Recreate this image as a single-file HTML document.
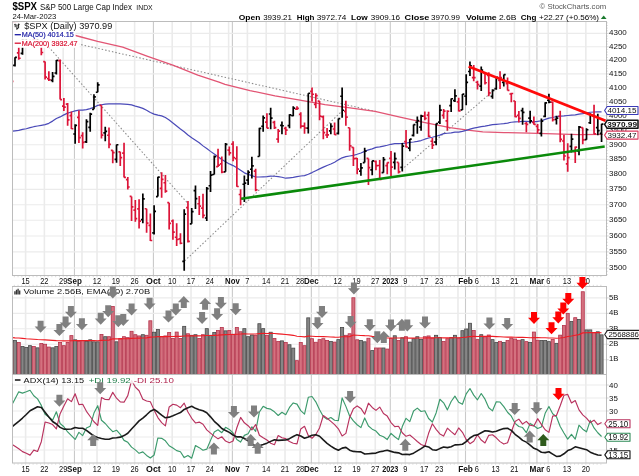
<!DOCTYPE html><html><head><meta charset="utf-8"><title>$SPX</title>
<style>html,body{margin:0;padding:0;background:#fff;}svg{display:block;will-change:transform;opacity:0.999;font-family:"Liberation Sans",sans-serif;}</style></head><body>
<svg width="639" height="476" viewBox="0 0 639 476">
<rect width="639" height="476" fill="#fff"/>
<g id="main">
<path d="M25.58,21.5V275.5M44.38,21.5V275.5M63.18,21.5V275.5M81.98,21.5V275.5M97.02,21.5V275.5M115.82,21.5V275.5M134.62,21.5V275.5M172.22,21.5V275.5M191.02,21.5V275.5M209.82,21.5V275.5M228.62,21.5V275.5M247.42,21.5V275.5M266.22,21.5V275.5M285.02,21.5V275.5M300.06,21.5V275.5M318.86,21.5V275.5M337.66,21.5V275.5M356.46,21.5V275.5M375.26,21.5V275.5M405.34,21.5V275.5M424.14,21.5V275.5M439.18,21.5V275.5M457.98,21.5V275.5M476.78,21.5V275.5M495.58,21.5V275.5M514.38,21.5V275.5M529.42,21.5V275.5M548.22,21.5V275.5M567.02,21.5V275.5M585.82,21.5V275.5" stroke="#ebebeb" stroke-width="1.6" fill="none"/>
<path d="M74.46,21.5V275.5M153.42,21.5V275.5M232.38,21.5V275.5M311.34,21.5V275.5M390.3,21.5V275.5M465.5,21.5V275.5M536.94,21.5V275.5" stroke="#cacaca" stroke-width="1.1" fill="none"/>
<line x1="12.5" y1="268.07" x2="606.5" y2="268.07" stroke="#ebebeb" stroke-width="1.1"/>
<line x1="12.5" y1="251.9" x2="606.5" y2="251.9" stroke="#ebebeb" stroke-width="1.1"/>
<line x1="12.5" y1="235.96" x2="606.5" y2="235.96" stroke="#ebebeb" stroke-width="1.1"/>
<line x1="12.5" y1="220.23" x2="606.5" y2="220.23" stroke="#ebebeb" stroke-width="1.1"/>
<line x1="12.5" y1="204.72" x2="606.5" y2="204.72" stroke="#ebebeb" stroke-width="1.1"/>
<line x1="12.5" y1="189.42" x2="606.5" y2="189.42" stroke="#ebebeb" stroke-width="1.1"/>
<line x1="12.5" y1="174.32" x2="606.5" y2="174.32" stroke="#ebebeb" stroke-width="1.1"/>
<line x1="12.5" y1="159.42" x2="606.5" y2="159.42" stroke="#ebebeb" stroke-width="1.1"/>
<line x1="12.5" y1="144.71" x2="606.5" y2="144.71" stroke="#ebebeb" stroke-width="1.1"/>
<line x1="12.5" y1="130.19" x2="606.5" y2="130.19" stroke="#ebebeb" stroke-width="1.1"/>
<line x1="12.5" y1="115.85" x2="606.5" y2="115.85" stroke="#ebebeb" stroke-width="1.1"/>
<line x1="12.5" y1="101.68" x2="606.5" y2="101.68" stroke="#ebebeb" stroke-width="1.1"/>
<line x1="12.5" y1="87.7" x2="606.5" y2="87.7" stroke="#ebebeb" stroke-width="1.1"/>
<line x1="12.5" y1="73.88" x2="606.5" y2="73.88" stroke="#ebebeb" stroke-width="1.1"/>
<line x1="12.5" y1="60.22" x2="606.5" y2="60.22" stroke="#ebebeb" stroke-width="1.1"/>
<line x1="12.5" y1="46.73" x2="606.5" y2="46.73" stroke="#ebebeb" stroke-width="1.1"/>
<line x1="12.5" y1="33.4" x2="606.5" y2="33.4" stroke="#ebebeb" stroke-width="1.1"/>
<line x1="30" y1="33" x2="378" y2="112" stroke="#8a8a8a" stroke-width="1.05" stroke-dasharray="1.5 2" fill="none"/>
<line x1="30" y1="26" x2="187.5" y2="203" stroke="#8a8a8a" stroke-width="1.05" stroke-dasharray="1.5 2" fill="none"/>
<line x1="184.7" y1="260.9" x2="341.6" y2="111.5" stroke="#8a8a8a" stroke-width="1.05" stroke-dasharray="1.5 2" fill="none"/>
<line x1="399" y1="172" x2="494.5" y2="89.8" stroke="#8a8a8a" stroke-width="1.05" stroke-dasharray="1.5 2" fill="none"/>
<polyline fill="none" stroke="#e25574" stroke-width="1.3" stroke-linejoin="round" points="12,22.5 30,25.5 50,29.5 75.5,35.5 97.6,41.3 122.7,47.1 147.7,56.3 172.8,65.1 197.8,75.1 219,82.1 225,84.3 250,90.6 275,95.8 300,100.1 325,104.6 350,107.8 375,111.3 400,117.1 425,122.6 450,127.6 467.8,130.1 482.8,131.8 504,132.6 529,133.1 554,133.8 579,134.6 602.7,134.4"/>
<polyline fill="none" stroke="#4a4ab8" stroke-width="1.2" stroke-linejoin="round" points="12.6,131.16 15,130.88 18.76,130.45 22.52,129.41 26.28,128.72 30.04,127.59 33.8,126.71 37.56,126 41.32,125.35 45.08,124.66 48.84,123.35 52.6,121.11 56.36,118.46 60.12,116.93 63.88,114.86 67.64,113.09 71.4,112.01 75.16,110.83 78.92,110.1 82.68,110.12 86.44,109.67 90.2,108.62 93.96,107.22 97.72,105.38 101.48,104.77 105.24,104.13 109,103.81 112.76,103.97 116.52,103.97 120.28,103.96 124.04,104.13 127.8,104.37 131.56,104.92 135.32,106.1 139.08,107.13 142.84,108.37 146.6,110.18 150.36,112.52 154.12,114.13 157.88,115.14 161.64,115.92 165.4,117.51 169.16,119.99 172.92,122.95 176.68,125.99 180.44,128.96 184.2,131.76 187.96,135.05 191.72,137.76 195.48,140.21 199.24,142.7 203,145.88 206.76,148.54 210.52,151.38 214.28,153.96 218.04,156.76 221.8,159.52 225.56,161.79 229.32,163.9 233.08,165.58 236.84,167.78 240.6,170.29 244.36,172.86 248.12,174.36 251.88,175.58 255.64,177.01 259.4,177 263.16,176.84 266.92,176.64 270.68,176.14 274.44,176.27 278.2,176.63 281.96,177.24 285.72,178.21 289.48,177.78 293.24,177.29 297,176.54 300.76,176 304.52,175.65 308.28,174.3 312.04,172.58 315.8,170.71 319.56,168.88 323.32,167.17 327.08,165.46 330.84,164.01 334.6,162.26 338.36,159.86 342.12,157.84 345.88,156.63 349.64,155.97 353.4,155.33 357.16,154.28 360.92,153.05 364.68,151.35 368.44,149.9 372.2,148.88 375.96,147.43 379.72,146.82 383.48,146.06 387.24,145.22 391,144.29 394.76,143.7 398.52,143.64 402.28,143.43 406.04,143.07 409.8,142.42 413.56,142.02 417.32,141.37 421.08,140.54 424.84,139.19 428.6,137.98 432.36,137.23 436.12,136.27 439.88,135.16 443.64,133.6 447.4,133.25 451.16,132.86 454.92,132.21 458.68,132.06 462.44,131.38 466.2,130.38 469.96,129.14 473.72,128.07 477.48,127.45 481.24,126.66 485,126.13 488.76,125.46 492.52,124.69 496.28,124.37 500.04,124.02 503.8,123.59 507.56,123.06 511.32,122.27 515.08,121.91 518.84,121.75 522.6,121.3 526.36,121.42 530.12,121.64 533.88,121.78 537.64,121.46 541.4,120.72 545.16,119.42 548.92,118.12 552.68,117.51 556.44,116.54 560.2,116.12 563.96,115.94 567.72,115.52 571.48,115.12 575.24,114.82 579,114.05 582.76,113.69 586.52,112.87 590.28,112.26 594.04,112 597.8,111.84 601.56,111.83"/>
<path d="M15,57.23V66.41M13.1,65.39H15M15,57.45H16.9M22.52,38.59V54.87M20.62,53.45H22.52M22.52,38.67H24.42M26.28,32.93V44.88M24.38,41.55H26.28M26.28,34.16H28.18M30.04,26.72V39.31M28.14,35.93H30.04M30.04,32.02H31.94M37.56,35.38V43.52M35.66,40.55H37.56M37.56,37.72H39.46M52.6,72.08V82.16M50.7,80.34H52.6M52.6,76.42H54.5M56.36,60.08V74.54M54.46,72.98H56.36M56.36,60.46H58.26M75.16,124.36V143.64M73.26,134.02H75.16M75.16,125.33H77.06M86.44,119.3V142.95M84.54,141.95H86.44M86.44,121.6H88.34M90.2,112.86V131.68M88.3,127.32H90.2M90.2,114.09H92.1M93.96,94.16V109.33M92.06,109.33H93.96M93.96,96.81H95.86M97.72,82.35V92.25M95.82,92.25H97.72M97.72,84.81H99.62M105.24,126.74V141.15M103.34,132.86H105.24M105.24,131.34H107.14M116.52,144.58V162.83M114.62,159.44H116.52M116.52,144.74H118.42M142.84,193.46V223.17M140.94,219.63H142.84M142.84,198.87H144.74M154.12,205.23V234.4M152.22,232.86H154.12M154.12,211.39H156.02M157.88,176.75V196.6M155.98,196.6H157.88M157.88,177.04H159.78M184.2,209.23V270.82M182.3,261.46H184.2M184.2,214.03H186.1M191.72,207.89V223.78M189.82,223.78H191.72M191.72,211.54H193.62M195.48,185.54V208.88M193.58,190.56H195.48M195.48,198.58H197.38M206.76,187.02V221.04M204.86,218.02H206.76M206.76,188.58H208.66M210.52,171.1V191.96M208.62,185.77H210.52M210.52,175.12H212.42M214.28,155.62V174.49M212.38,174.49H214.28M214.28,156.72H216.18M225.56,143.12V171.84M223.66,171.84H225.56M225.56,144.4H227.46M244.36,175.42V202M242.46,184.27H244.36M244.36,183.19H246.26M248.12,170.14V184.96M246.22,180.12H248.12M248.12,172.28H250.02M251.88,156.64V178.44M249.98,169.23H251.88M251.88,165.92H253.78M259.4,127.78V156.49M257.5,156.49H259.4M259.4,128.35H261.3M263.16,115.42V131.68M261.26,126.23H263.16M263.16,117.86H265.06M270.68,107.66V129.27M268.78,114.02H270.68M270.68,118.2H272.58M281.96,121.59V134.24M280.06,125.46H281.96M281.96,125.77H283.86M289.48,114.17V128.2M287.58,125.72H289.48M289.48,114.83H291.38M293.24,106.26V116.23M291.34,115.76H293.24M293.24,108.1H295.14M308.28,93.24V133.49M306.38,128.12H308.28M308.28,93.24H310.18M330.84,123.23V134.28M328.94,130.82H330.84M330.84,126.29H332.74M338.36,118.5V134.44M336.46,133.28H338.36M338.36,118.54H340.26M342.12,87.43V117.83M340.22,96.24H342.12M342.12,110.26H344.02M360.92,162.91V175.63M359.02,171.18H360.92M360.92,167.85H362.82M364.68,147.69V162.53M362.78,162.53H364.68M364.68,151.03H366.58M372.2,160.66V175.22M370.3,169.8H372.2M372.2,160.95H374.1M383.48,157V172.69M381.58,172.69H383.48M383.48,159.63H385.38M394.76,152.58V169.6M392.86,162.28H394.76M394.76,158.54H396.66M402.28,142.9V171.46M400.38,167.33H402.28M402.28,146.15H404.18M409.8,138.93V151.37M407.9,148.05H409.8M409.8,139.09H411.7M413.56,124.41V136.4M411.66,135.29H413.56M413.56,124.54H415.46M417.32,116.48V133.78M415.42,122.26H417.32M417.32,120.65H419.22M421.08,114.72V130.86M419.18,127.13H421.08M421.08,116.1H422.98M436.12,123.58V145.33M434.22,142.07H436.12M436.12,123.68H438.02M439.88,104.7V123.96M437.98,122.09H439.88M439.88,110.21H441.78M451.16,98.43V112.06M449.26,105.61H451.16M451.16,98.75H453.06M454.92,89.31V102.05M453.02,100.64H454.92M454.92,95.91H456.82M462.44,94.06V110.03M460.54,109.92H462.44M462.44,94.22H464.34M466.2,74.17V105.29M464.3,96.05H466.2M466.2,82.37H468.1M469.96,61.46V76.11M468.06,71.5H469.96M469.96,65.73H471.86M481.24,66.61V90.93M479.34,86.21H481.24M481.24,70.04H483.14M492.52,89.27V98.65M490.62,96.37H492.52M492.52,90.35H494.42M496.28,76.93V89.74M494.38,88.64H496.28M496.28,77.37H498.18M503.8,74.4V86.59M501.9,82.29H503.8M503.8,74.54H505.7M522.6,107.81V124.66M520.7,110.56H522.6M522.6,112.34H524.5M530.12,110.71V123.41M528.22,118.03H530.12M530.12,120.92H532.02M541.4,118.46V136.51M539.5,133.46H541.4M541.4,121.17H543.3M545.16,102.17V117.22M543.26,116.41H545.16M545.16,102.91H547.06M548.92,93.69V103.2M547.02,100.24H548.92M548.92,102.13H550.82M556.44,115.73V124.5M554.54,119.4H556.44M556.44,118.12H558.34M571.48,133.86V152.44M569.58,146.46H571.48M571.48,139.08H573.38M579,126.02V155.25M577.1,150.88H579M579,127.22H580.9M586.52,128.28V139.78M584.62,139.61H586.52M586.52,129.73H588.42M590.28,113.26V124.09M588.38,122.74H590.28M590.28,115.03H592.18M597.8,113.66V135.29M595.9,127.53H597.8M597.8,130.55H599.7M601.56,123.64V142.03M599.66,133.3H601.56M601.56,124.14H603.46" stroke="#000" stroke-width="1.7" fill="none"/>
<path d="M18.76,44.61V59.84M16.86,52.81H18.76M18.76,58.25H20.66M33.8,32.82V45.91M31.9,38.61H33.8M33.8,40.3H35.7M41.32,42.37V55.16M39.42,42.37H41.32M41.32,52.52H43.22M45.08,61.56V79.42M43.18,61.56H45.08M45.08,77.18H46.98M48.84,71.2V81.03M46.94,78.53H48.84M48.84,79.74H50.74M60.12,59.4V99.53M58.22,60.57H60.12M60.12,99.53H62.02M63.88,98.03V110.89M61.98,106.03H63.88M63.88,107.15H65.78M67.64,103.1V125.8M65.74,104.15H67.64M67.64,119.8H69.54M71.4,111.47V128.88M69.5,115.65H71.4M71.4,128.74H73.3M78.92,110.61V142.89M77.02,117.37H78.92M78.92,137.64H80.82M82.68,132.34V148.59M80.78,135.71H82.68M82.68,142.32H84.58M101.48,105.32V138.5M99.58,105.32H101.48M101.48,135.19H103.38M109,127.55V148.14M107.1,135.27H109M109,144.31H110.9M112.76,150.29V163.25M110.86,150.29H112.76M112.76,152.53H114.66M120.28,151.74V166.09M118.38,151.97H120.28M120.28,157.66H122.18M124.04,142.64V177.48M122.14,153.1H124.04M124.04,177.34H125.94M127.8,177.05V189.59M125.9,179.62H127.8M127.8,186.99H129.7M131.56,196.39V221.02M129.66,196.39H131.56M131.56,206.81H133.46M135.32,199.9V221.87M133.42,210.06H135.32M135.32,218.66H137.22M139.08,199.33V228.61M137.18,208.91H139.08M139.08,221.08H140.98M146.6,208.73V232.67M144.7,208.73H146.6M146.6,223.21H148.5M150.36,213.56V240.99M148.46,225.4H150.36M150.36,240.52H152.26M161.64,172.25V197.76M159.74,188.43H161.64M161.64,179.35H163.54M165.4,174.94V192.7M163.5,182.76H165.4M165.4,191.09H167.3M169.16,202.65V229.41M167.26,202.65H169.16M169.16,223.47H171.06M172.92,219.55V239.73M171.02,221.01H172.92M172.92,232.04H174.82M176.68,223.15V245.99M174.78,237.27H176.68M176.68,239.5H178.58M180.44,233.32V244.26M178.54,238.86H180.44M180.44,243.25H182.34M187.96,201.03V242.41M186.06,207.68H187.96M187.96,241.33H189.86M199.24,195.95V215.09M197.34,203.76H199.24M199.24,206.21H201.14M203,193.68V218.22M201.1,208.1H203M203,215.31H204.9M218.04,148.76V167.12M216.14,166.56H218.04M218.04,165.18H219.94M221.8,156.48V173.18M219.9,163.96H221.8M221.8,172.13H223.7M229.32,146.54V155.52M227.42,150.03H229.32M229.32,152.93H231.22M233.08,141.27V161.26M231.18,144.18H233.08M233.08,157.61H234.98M236.84,146.33V186.78M234.94,158.56H236.84M236.84,186.48H238.74M240.6,189.24V205.29M238.7,194.52H240.6M240.6,198.61H242.5M255.64,168.87V191.18M253.74,171.04H255.64M255.64,189.85H257.54M266.92,113.29V128.34M265.02,122.14H266.92M266.92,128.09H268.82M274.44,120.68V128.93M272.54,122.47H274.44M274.44,127.65H276.34M278.2,128.94V142.8M276.3,139.09H278.2M278.2,131.18H280.1M285.72,126.73V135M283.82,128.39H285.72M285.72,130.2H287.62M297,106.19V109.94M295.1,109.21H297M297,108.43H298.9M300.76,112.35V128.52M298.86,114.32H300.76M300.76,126.17H302.66M304.52,122.49V133.76M302.62,126.1H304.52M304.52,127.99H306.42M312.04,87.55V101.44M310.14,91.28H312.04M312.04,94.23H313.94M315.8,93.14V108.28M313.9,104.45H315.8M315.8,95.59H317.7M319.56,100.99V120.27M317.66,101.12H319.56M319.56,116.18H321.46M323.32,115.42V139.34M321.42,116.81H323.32M323.32,132.71H325.22M327.08,128V138.1M325.18,135.02H327.08M327.08,134.84H328.98M334.6,122.41V135.09M332.7,128.98H334.6M334.6,134.7H336.5M345.88,100.63V125.68M343.98,111.43H345.88M345.88,117.18H347.78M349.64,127.77V150.73M347.74,127.77H349.64M349.64,145.95H351.54M353.4,147.37V165.98M351.5,147.37H353.4M353.4,158.72H355.3M357.16,157.98V174.31M355.26,158.3H357.16M357.16,169.03H359.06M368.44,158.45V185.02M366.54,158.45H368.44M368.44,167.62H370.34M375.96,160.41V170.36M374.06,161.39H375.96M375.96,165.58H377.86M379.72,159.92V180.1M377.82,165.49H379.72M379.72,179.37H381.62M387.24,162.43V174.22M385.34,165.64H387.24M387.24,162.53H389.14M391,151.02V176.02M389.1,158.44H391M391,167.1H392.9M398.52,162.46V173.59M396.62,162.46H398.52M398.52,171.89H400.42M406.04,130.02V147.51M404.14,141.55H406.04M406.04,147.02H407.94M424.84,111.47V120.25M422.94,116.05H424.84M424.84,118.42H426.74M428.6,111.82V136.96M426.7,115.2H428.6M428.6,136.3H430.5M432.36,138.02V148.94M430.46,141.25H432.36M432.36,145.04H434.26M443.64,109.05V118.76M441.74,115.35H443.64M443.64,111.03H445.54M447.4,110.29V130.46M445.5,120.78H447.4M447.4,111.23H449.3M458.68,97.79V111.42M456.78,101.89H458.68M458.68,110.79H460.58M473.72,65.02V81.22M471.82,77.54H473.72M473.72,77.6H475.62M477.48,80.87V89.54M475.58,82.27H477.48M477.48,84.62H479.38M485,72V84.46M483.1,72.92H485M485,82.74H486.9M488.76,72.17V96.16M486.86,75.46H488.76M488.76,92.85H490.66M500.04,71.2V89.08M498.14,80.3H500.04M500.04,77.69H501.94M507.56,77.58V90.62M505.66,83.6H507.56M507.56,90.37H509.46M511.32,92.85V102.26M509.42,94H511.32M511.32,93.52H513.22M515.08,101.02V117.22M513.18,101.02H515.08M515.08,116.6H516.98M518.84,110.91V122.45M516.94,115.32H518.84M518.84,118.4H520.74M526.36,122.06V132.18M524.46,123.5H526.36M526.36,124.42H528.26M533.88,116.56V124.72M531.98,122.37H533.88M533.88,124.38H535.78M537.64,123.93V133.35M535.74,126.34H537.64M537.64,129.78H539.54M552.68,101.68V121.47M550.78,102.17H552.68M552.68,119.74H554.58M560.2,110.78V142.17M558.3,116.23H560.2M560.2,139.37H562.1M563.96,134.8V160.51M562.06,140.98H563.96M563.96,155.99H565.86M567.72,143.23V171.67M565.82,163.83H567.72M567.72,157.71H569.62M575.24,146.39V162.91M573.34,151.53H575.24M575.24,147.07H577.14M582.76,127.62V144.34M580.86,127.68H582.76M582.76,139.85H584.66M594.04,104.65V134.18M592.14,115.26H594.04M594.04,133.95H595.94" stroke="#dc1438" stroke-width="1.7" fill="none"/>
<path d="M12.6,81.47H13.4" stroke="#dc1438" stroke-width="1.7" fill="none"/>
<line x1="241.3" y1="198.7" x2="604.7" y2="146.6" stroke="#0a8a0a" stroke-width="2.5"/>
<line x1="468.6" y1="66.4" x2="605.6" y2="120.8" stroke="#ff0a0a" stroke-width="2.7"/>
<rect x="12.6" y="22.2" width="102" height="9" fill="#fff"/>
<rect x="12.6" y="31" width="63" height="8.6" fill="#fff"/>
<rect x="12.6" y="39.4" width="67" height="8.4" fill="#fff"/>
</g>
<rect x="12.5" y="21.5" width="594.0" height="254.0" fill="none" stroke="#bcbcbc" stroke-width="1"/>
<path d="M15.2,23.8V27.2M14.3,24.6H15.2M16.9,24.4V29.8M16.9,28.4H18M18.6,23.6V28.4M17.8,25.4H18.6M18.6,24.4H19.6" stroke="#111" stroke-width="0.95" fill="none"/>
<text x="24.2" y="29.4" font-size="8.3" fill="#111" textLength="88.1" lengthAdjust="spacingAndGlyphs">$SPX (Daily) 3970.99</text>
<line x1="14.7" y1="34.7" x2="20.9" y2="34.7" stroke="#1a1aa4" stroke-width="1.3"/>
<text x="21.8" y="37.4" font-size="7.9" fill="#1a1aa4" stroke="#1a1aa4" stroke-width="0.2" textLength="52" lengthAdjust="spacingAndGlyphs">MA(50) 4014.15</text>
<line x1="14.7" y1="43.2" x2="20.9" y2="43.2" stroke="#d81030" stroke-width="1.3"/>
<text x="21.8" y="45.8" font-size="7.9" fill="#d81030" stroke="#d81030" stroke-width="0.2" textLength="55.8" lengthAdjust="spacingAndGlyphs">MA(200) 3932.47</text>
<text x="609" y="270.02" font-size="8.1" fill="#111" textLength="17.8" lengthAdjust="spacingAndGlyphs">3500</text>
<text x="609" y="253.85" font-size="8.1" fill="#111" textLength="17.8" lengthAdjust="spacingAndGlyphs">3550</text>
<text x="609" y="237.91" font-size="8.1" fill="#111" textLength="17.8" lengthAdjust="spacingAndGlyphs">3600</text>
<text x="609" y="222.18" font-size="8.1" fill="#111" textLength="17.8" lengthAdjust="spacingAndGlyphs">3650</text>
<text x="609" y="206.67" font-size="8.1" fill="#111" textLength="17.8" lengthAdjust="spacingAndGlyphs">3700</text>
<text x="609" y="191.37" font-size="8.1" fill="#111" textLength="17.8" lengthAdjust="spacingAndGlyphs">3750</text>
<text x="609" y="176.27" font-size="8.1" fill="#111" textLength="17.8" lengthAdjust="spacingAndGlyphs">3800</text>
<text x="609" y="161.37" font-size="8.1" fill="#111" textLength="17.8" lengthAdjust="spacingAndGlyphs">3850</text>
<text x="609" y="146.66" font-size="8.1" fill="#111" textLength="17.8" lengthAdjust="spacingAndGlyphs">3900</text>
<text x="609" y="132.14" font-size="8.1" fill="#111" textLength="17.8" lengthAdjust="spacingAndGlyphs">3950</text>
<text x="609" y="117.8" font-size="8.1" fill="#111" textLength="17.8" lengthAdjust="spacingAndGlyphs">4000</text>
<text x="609" y="103.63" font-size="8.1" fill="#111" textLength="17.8" lengthAdjust="spacingAndGlyphs">4050</text>
<text x="609" y="89.65" font-size="8.1" fill="#111" textLength="17.8" lengthAdjust="spacingAndGlyphs">4100</text>
<text x="609" y="75.83" font-size="8.1" fill="#111" textLength="17.8" lengthAdjust="spacingAndGlyphs">4150</text>
<text x="609" y="62.17" font-size="8.1" fill="#111" textLength="17.8" lengthAdjust="spacingAndGlyphs">4200</text>
<text x="609" y="48.68" font-size="8.1" fill="#111" textLength="17.8" lengthAdjust="spacingAndGlyphs">4250</text>
<text x="609" y="35.35" font-size="8.1" fill="#111" textLength="17.8" lengthAdjust="spacingAndGlyphs">4300</text>
<line x1="606.5" y1="274.6" x2="607.7" y2="274.6" stroke="#aaa" stroke-width="0.5"/>
<line x1="606.5" y1="271.33" x2="607.7" y2="271.33" stroke="#aaa" stroke-width="0.5"/>
<line x1="606.5" y1="268.07" x2="608.7" y2="268.07" stroke="#aaa" stroke-width="0.5"/>
<line x1="606.5" y1="264.82" x2="607.7" y2="264.82" stroke="#aaa" stroke-width="0.5"/>
<line x1="606.5" y1="261.58" x2="607.7" y2="261.58" stroke="#aaa" stroke-width="0.5"/>
<line x1="606.5" y1="258.34" x2="607.7" y2="258.34" stroke="#aaa" stroke-width="0.5"/>
<line x1="606.5" y1="255.12" x2="607.7" y2="255.12" stroke="#aaa" stroke-width="0.5"/>
<line x1="606.5" y1="251.9" x2="608.7" y2="251.9" stroke="#aaa" stroke-width="0.5"/>
<line x1="606.5" y1="248.69" x2="607.7" y2="248.69" stroke="#aaa" stroke-width="0.5"/>
<line x1="606.5" y1="245.5" x2="607.7" y2="245.5" stroke="#aaa" stroke-width="0.5"/>
<line x1="606.5" y1="242.31" x2="607.7" y2="242.31" stroke="#aaa" stroke-width="0.5"/>
<line x1="606.5" y1="239.13" x2="607.7" y2="239.13" stroke="#aaa" stroke-width="0.5"/>
<line x1="606.5" y1="235.96" x2="608.7" y2="235.96" stroke="#aaa" stroke-width="0.5"/>
<line x1="606.5" y1="232.79" x2="607.7" y2="232.79" stroke="#aaa" stroke-width="0.5"/>
<line x1="606.5" y1="229.64" x2="607.7" y2="229.64" stroke="#aaa" stroke-width="0.5"/>
<line x1="606.5" y1="226.5" x2="607.7" y2="226.5" stroke="#aaa" stroke-width="0.5"/>
<line x1="606.5" y1="223.36" x2="607.7" y2="223.36" stroke="#aaa" stroke-width="0.5"/>
<line x1="606.5" y1="220.23" x2="608.7" y2="220.23" stroke="#aaa" stroke-width="0.5"/>
<line x1="606.5" y1="217.11" x2="607.7" y2="217.11" stroke="#aaa" stroke-width="0.5"/>
<line x1="606.5" y1="214" x2="607.7" y2="214" stroke="#aaa" stroke-width="0.5"/>
<line x1="606.5" y1="210.9" x2="607.7" y2="210.9" stroke="#aaa" stroke-width="0.5"/>
<line x1="606.5" y1="207.81" x2="607.7" y2="207.81" stroke="#aaa" stroke-width="0.5"/>
<line x1="606.5" y1="204.72" x2="608.7" y2="204.72" stroke="#aaa" stroke-width="0.5"/>
<line x1="606.5" y1="201.64" x2="607.7" y2="201.64" stroke="#aaa" stroke-width="0.5"/>
<line x1="606.5" y1="198.58" x2="607.7" y2="198.58" stroke="#aaa" stroke-width="0.5"/>
<line x1="606.5" y1="195.52" x2="607.7" y2="195.52" stroke="#aaa" stroke-width="0.5"/>
<line x1="606.5" y1="192.46" x2="607.7" y2="192.46" stroke="#aaa" stroke-width="0.5"/>
<line x1="606.5" y1="189.42" x2="608.7" y2="189.42" stroke="#aaa" stroke-width="0.5"/>
<line x1="606.5" y1="186.38" x2="607.7" y2="186.38" stroke="#aaa" stroke-width="0.5"/>
<line x1="606.5" y1="183.36" x2="607.7" y2="183.36" stroke="#aaa" stroke-width="0.5"/>
<line x1="606.5" y1="180.34" x2="607.7" y2="180.34" stroke="#aaa" stroke-width="0.5"/>
<line x1="606.5" y1="177.32" x2="607.7" y2="177.32" stroke="#aaa" stroke-width="0.5"/>
<line x1="606.5" y1="174.32" x2="608.7" y2="174.32" stroke="#aaa" stroke-width="0.5"/>
<line x1="606.5" y1="171.32" x2="607.7" y2="171.32" stroke="#aaa" stroke-width="0.5"/>
<line x1="606.5" y1="168.34" x2="607.7" y2="168.34" stroke="#aaa" stroke-width="0.5"/>
<line x1="606.5" y1="165.36" x2="607.7" y2="165.36" stroke="#aaa" stroke-width="0.5"/>
<line x1="606.5" y1="162.38" x2="607.7" y2="162.38" stroke="#aaa" stroke-width="0.5"/>
<line x1="606.5" y1="159.42" x2="608.7" y2="159.42" stroke="#aaa" stroke-width="0.5"/>
<line x1="606.5" y1="156.46" x2="607.7" y2="156.46" stroke="#aaa" stroke-width="0.5"/>
<line x1="606.5" y1="153.51" x2="607.7" y2="153.51" stroke="#aaa" stroke-width="0.5"/>
<line x1="606.5" y1="150.57" x2="607.7" y2="150.57" stroke="#aaa" stroke-width="0.5"/>
<line x1="606.5" y1="147.63" x2="607.7" y2="147.63" stroke="#aaa" stroke-width="0.5"/>
<line x1="606.5" y1="144.71" x2="608.7" y2="144.71" stroke="#aaa" stroke-width="0.5"/>
<line x1="606.5" y1="141.79" x2="607.7" y2="141.79" stroke="#aaa" stroke-width="0.5"/>
<line x1="606.5" y1="138.88" x2="607.7" y2="138.88" stroke="#aaa" stroke-width="0.5"/>
<line x1="606.5" y1="135.97" x2="607.7" y2="135.97" stroke="#aaa" stroke-width="0.5"/>
<line x1="606.5" y1="133.08" x2="607.7" y2="133.08" stroke="#aaa" stroke-width="0.5"/>
<line x1="606.5" y1="130.19" x2="608.7" y2="130.19" stroke="#aaa" stroke-width="0.5"/>
<line x1="606.5" y1="127.3" x2="607.7" y2="127.3" stroke="#aaa" stroke-width="0.5"/>
<line x1="606.5" y1="124.43" x2="607.7" y2="124.43" stroke="#aaa" stroke-width="0.5"/>
<line x1="606.5" y1="121.56" x2="607.7" y2="121.56" stroke="#aaa" stroke-width="0.5"/>
<line x1="606.5" y1="118.7" x2="607.7" y2="118.7" stroke="#aaa" stroke-width="0.5"/>
<line x1="606.5" y1="115.85" x2="608.7" y2="115.85" stroke="#aaa" stroke-width="0.5"/>
<line x1="606.5" y1="113" x2="607.7" y2="113" stroke="#aaa" stroke-width="0.5"/>
<line x1="606.5" y1="110.16" x2="607.7" y2="110.16" stroke="#aaa" stroke-width="0.5"/>
<line x1="606.5" y1="107.33" x2="607.7" y2="107.33" stroke="#aaa" stroke-width="0.5"/>
<line x1="606.5" y1="104.5" x2="607.7" y2="104.5" stroke="#aaa" stroke-width="0.5"/>
<line x1="606.5" y1="101.68" x2="608.7" y2="101.68" stroke="#aaa" stroke-width="0.5"/>
<line x1="606.5" y1="98.87" x2="607.7" y2="98.87" stroke="#aaa" stroke-width="0.5"/>
<line x1="606.5" y1="96.07" x2="607.7" y2="96.07" stroke="#aaa" stroke-width="0.5"/>
<line x1="606.5" y1="93.27" x2="607.7" y2="93.27" stroke="#aaa" stroke-width="0.5"/>
<line x1="606.5" y1="90.48" x2="607.7" y2="90.48" stroke="#aaa" stroke-width="0.5"/>
<line x1="606.5" y1="87.7" x2="608.7" y2="87.7" stroke="#aaa" stroke-width="0.5"/>
<line x1="606.5" y1="84.92" x2="607.7" y2="84.92" stroke="#aaa" stroke-width="0.5"/>
<line x1="606.5" y1="82.15" x2="607.7" y2="82.15" stroke="#aaa" stroke-width="0.5"/>
<line x1="606.5" y1="79.38" x2="607.7" y2="79.38" stroke="#aaa" stroke-width="0.5"/>
<line x1="606.5" y1="76.63" x2="607.7" y2="76.63" stroke="#aaa" stroke-width="0.5"/>
<line x1="606.5" y1="73.88" x2="608.7" y2="73.88" stroke="#aaa" stroke-width="0.5"/>
<line x1="606.5" y1="71.13" x2="607.7" y2="71.13" stroke="#aaa" stroke-width="0.5"/>
<line x1="606.5" y1="68.4" x2="607.7" y2="68.4" stroke="#aaa" stroke-width="0.5"/>
<line x1="606.5" y1="65.67" x2="607.7" y2="65.67" stroke="#aaa" stroke-width="0.5"/>
<line x1="606.5" y1="62.94" x2="607.7" y2="62.94" stroke="#aaa" stroke-width="0.5"/>
<line x1="606.5" y1="60.22" x2="608.7" y2="60.22" stroke="#aaa" stroke-width="0.5"/>
<line x1="606.5" y1="57.51" x2="607.7" y2="57.51" stroke="#aaa" stroke-width="0.5"/>
<line x1="606.5" y1="54.81" x2="607.7" y2="54.81" stroke="#aaa" stroke-width="0.5"/>
<line x1="606.5" y1="52.11" x2="607.7" y2="52.11" stroke="#aaa" stroke-width="0.5"/>
<line x1="606.5" y1="49.42" x2="607.7" y2="49.42" stroke="#aaa" stroke-width="0.5"/>
<line x1="606.5" y1="46.73" x2="608.7" y2="46.73" stroke="#aaa" stroke-width="0.5"/>
<line x1="606.5" y1="44.05" x2="607.7" y2="44.05" stroke="#aaa" stroke-width="0.5"/>
<line x1="606.5" y1="41.38" x2="607.7" y2="41.38" stroke="#aaa" stroke-width="0.5"/>
<line x1="606.5" y1="38.71" x2="607.7" y2="38.71" stroke="#aaa" stroke-width="0.5"/>
<line x1="606.5" y1="36.05" x2="607.7" y2="36.05" stroke="#aaa" stroke-width="0.5"/>
<line x1="606.5" y1="33.4" x2="608.7" y2="33.4" stroke="#aaa" stroke-width="0.5"/>
<line x1="606.5" y1="30.75" x2="607.7" y2="30.75" stroke="#aaa" stroke-width="0.5"/>
<line x1="606.5" y1="28.11" x2="607.7" y2="28.11" stroke="#aaa" stroke-width="0.5"/>
<line x1="606.5" y1="25.47" x2="607.7" y2="25.47" stroke="#aaa" stroke-width="0.5"/>
<line x1="606.5" y1="22.84" x2="607.7" y2="22.84" stroke="#aaa" stroke-width="0.5"/>
<path d="M604.6,110.5L607.2,106.5H638V114.5H607.2Z" fill="#fff" stroke="#3a3ab8" stroke-width="1.1" stroke-linejoin="round"/>
<text x="607.4" y="113.25" font-size="7.9" fill="#111"  textLength="29.2" lengthAdjust="spacingAndGlyphs">4014.15</text>
<path d="M604.6,135.1L607.2,131.1H638V139.1H607.2Z" fill="#fff" stroke="#dc3a5e" stroke-width="1.1" stroke-linejoin="round"/>
<text x="607.4" y="137.85" font-size="7.9" fill="#111"  textLength="29.2" lengthAdjust="spacingAndGlyphs">3932.47</text>
<path d="M604.6,124.3L607.2,120.3H638V128.3H607.2Z" fill="#fff" stroke="#111" stroke-width="1.5" stroke-linejoin="round"/>
<text x="607.2" y="127.05" font-size="7.9" fill="#111" font-weight="bold" textLength="29.8" lengthAdjust="spacingAndGlyphs">3970.99</text>
<path d="M14.3,276V277.2M14.3,284.8V286M14.3,463.5V464.7M18.06,276V277.2M18.06,284.8V286M18.06,463.5V464.7M21.82,276V277.2M21.82,284.8V286M21.82,463.5V464.7M25.58,276V277.2M25.58,284.8V286M25.58,463.5V464.7M29.34,276V277.2M29.34,284.8V286M29.34,463.5V464.7M33.1,276V277.2M33.1,284.8V286M33.1,463.5V464.7M36.86,276V277.2M36.86,284.8V286M36.86,463.5V464.7M40.62,276V277.2M40.62,284.8V286M40.62,463.5V464.7M44.38,276V277.2M44.38,284.8V286M44.38,463.5V464.7M48.14,276V277.2M48.14,284.8V286M48.14,463.5V464.7M51.9,276V277.2M51.9,284.8V286M51.9,463.5V464.7M55.66,276V277.2M55.66,284.8V286M55.66,463.5V464.7M59.42,276V277.2M59.42,284.8V286M59.42,463.5V464.7M63.18,276V277.2M63.18,284.8V286M63.18,463.5V464.7M66.94,276V277.2M66.94,284.8V286M66.94,463.5V464.7M70.7,276V277.2M70.7,284.8V286M70.7,463.5V464.7M74.46,276V277.2M74.46,284.8V286M74.46,463.5V464.7M78.22,276V277.2M78.22,284.8V286M78.22,463.5V464.7M81.98,276V277.2M81.98,284.8V286M81.98,463.5V464.7M85.74,276V277.2M85.74,284.8V286M85.74,463.5V464.7M89.5,276V277.2M89.5,284.8V286M89.5,463.5V464.7M93.26,276V277.2M93.26,284.8V286M93.26,463.5V464.7M97.02,276V277.2M97.02,284.8V286M97.02,463.5V464.7M100.78,276V277.2M100.78,284.8V286M100.78,463.5V464.7M104.54,276V277.2M104.54,284.8V286M104.54,463.5V464.7M108.3,276V277.2M108.3,284.8V286M108.3,463.5V464.7M112.06,276V277.2M112.06,284.8V286M112.06,463.5V464.7M115.82,276V277.2M115.82,284.8V286M115.82,463.5V464.7M119.58,276V277.2M119.58,284.8V286M119.58,463.5V464.7M123.34,276V277.2M123.34,284.8V286M123.34,463.5V464.7M127.1,276V277.2M127.1,284.8V286M127.1,463.5V464.7M130.86,276V277.2M130.86,284.8V286M130.86,463.5V464.7M134.62,276V277.2M134.62,284.8V286M134.62,463.5V464.7M138.38,276V277.2M138.38,284.8V286M138.38,463.5V464.7M142.14,276V277.2M142.14,284.8V286M142.14,463.5V464.7M145.9,276V277.2M145.9,284.8V286M145.9,463.5V464.7M149.66,276V277.2M149.66,284.8V286M149.66,463.5V464.7M153.42,276V277.2M153.42,284.8V286M153.42,463.5V464.7M157.18,276V277.2M157.18,284.8V286M157.18,463.5V464.7M160.94,276V277.2M160.94,284.8V286M160.94,463.5V464.7M164.7,276V277.2M164.7,284.8V286M164.7,463.5V464.7M168.46,276V277.2M168.46,284.8V286M168.46,463.5V464.7M172.22,276V277.2M172.22,284.8V286M172.22,463.5V464.7M175.98,276V277.2M175.98,284.8V286M175.98,463.5V464.7M179.74,276V277.2M179.74,284.8V286M179.74,463.5V464.7M183.5,276V277.2M183.5,284.8V286M183.5,463.5V464.7M187.26,276V277.2M187.26,284.8V286M187.26,463.5V464.7M191.02,276V277.2M191.02,284.8V286M191.02,463.5V464.7M194.78,276V277.2M194.78,284.8V286M194.78,463.5V464.7M198.54,276V277.2M198.54,284.8V286M198.54,463.5V464.7M202.3,276V277.2M202.3,284.8V286M202.3,463.5V464.7M206.06,276V277.2M206.06,284.8V286M206.06,463.5V464.7M209.82,276V277.2M209.82,284.8V286M209.82,463.5V464.7M213.58,276V277.2M213.58,284.8V286M213.58,463.5V464.7M217.34,276V277.2M217.34,284.8V286M217.34,463.5V464.7M221.1,276V277.2M221.1,284.8V286M221.1,463.5V464.7M224.86,276V277.2M224.86,284.8V286M224.86,463.5V464.7M228.62,276V277.2M228.62,284.8V286M228.62,463.5V464.7M232.38,276V277.2M232.38,284.8V286M232.38,463.5V464.7M236.14,276V277.2M236.14,284.8V286M236.14,463.5V464.7M239.9,276V277.2M239.9,284.8V286M239.9,463.5V464.7M243.66,276V277.2M243.66,284.8V286M243.66,463.5V464.7M247.42,276V277.2M247.42,284.8V286M247.42,463.5V464.7M251.18,276V277.2M251.18,284.8V286M251.18,463.5V464.7M254.94,276V277.2M254.94,284.8V286M254.94,463.5V464.7M258.7,276V277.2M258.7,284.8V286M258.7,463.5V464.7M262.46,276V277.2M262.46,284.8V286M262.46,463.5V464.7M266.22,276V277.2M266.22,284.8V286M266.22,463.5V464.7M269.98,276V277.2M269.98,284.8V286M269.98,463.5V464.7M273.74,276V277.2M273.74,284.8V286M273.74,463.5V464.7M277.5,276V277.2M277.5,284.8V286M277.5,463.5V464.7M281.26,276V277.2M281.26,284.8V286M281.26,463.5V464.7M285.02,276V277.2M285.02,284.8V286M285.02,463.5V464.7M288.78,276V277.2M288.78,284.8V286M288.78,463.5V464.7M292.54,276V277.2M292.54,284.8V286M292.54,463.5V464.7M296.3,276V277.2M296.3,284.8V286M296.3,463.5V464.7M300.06,276V277.2M300.06,284.8V286M300.06,463.5V464.7M303.82,276V277.2M303.82,284.8V286M303.82,463.5V464.7M307.58,276V277.2M307.58,284.8V286M307.58,463.5V464.7M311.34,276V277.2M311.34,284.8V286M311.34,463.5V464.7M315.1,276V277.2M315.1,284.8V286M315.1,463.5V464.7M318.86,276V277.2M318.86,284.8V286M318.86,463.5V464.7M322.62,276V277.2M322.62,284.8V286M322.62,463.5V464.7M326.38,276V277.2M326.38,284.8V286M326.38,463.5V464.7M330.14,276V277.2M330.14,284.8V286M330.14,463.5V464.7M333.9,276V277.2M333.9,284.8V286M333.9,463.5V464.7M337.66,276V277.2M337.66,284.8V286M337.66,463.5V464.7M341.42,276V277.2M341.42,284.8V286M341.42,463.5V464.7M345.18,276V277.2M345.18,284.8V286M345.18,463.5V464.7M348.94,276V277.2M348.94,284.8V286M348.94,463.5V464.7M352.7,276V277.2M352.7,284.8V286M352.7,463.5V464.7M356.46,276V277.2M356.46,284.8V286M356.46,463.5V464.7M360.22,276V277.2M360.22,284.8V286M360.22,463.5V464.7M363.98,276V277.2M363.98,284.8V286M363.98,463.5V464.7M367.74,276V277.2M367.74,284.8V286M367.74,463.5V464.7M371.5,276V277.2M371.5,284.8V286M371.5,463.5V464.7M375.26,276V277.2M375.26,284.8V286M375.26,463.5V464.7M379.02,276V277.2M379.02,284.8V286M379.02,463.5V464.7M382.78,276V277.2M382.78,284.8V286M382.78,463.5V464.7M386.54,276V277.2M386.54,284.8V286M386.54,463.5V464.7M390.3,276V277.2M390.3,284.8V286M390.3,463.5V464.7M394.06,276V277.2M394.06,284.8V286M394.06,463.5V464.7M397.82,276V277.2M397.82,284.8V286M397.82,463.5V464.7M401.58,276V277.2M401.58,284.8V286M401.58,463.5V464.7M405.34,276V277.2M405.34,284.8V286M405.34,463.5V464.7M409.1,276V277.2M409.1,284.8V286M409.1,463.5V464.7M412.86,276V277.2M412.86,284.8V286M412.86,463.5V464.7M416.62,276V277.2M416.62,284.8V286M416.62,463.5V464.7M420.38,276V277.2M420.38,284.8V286M420.38,463.5V464.7M424.14,276V277.2M424.14,284.8V286M424.14,463.5V464.7M427.9,276V277.2M427.9,284.8V286M427.9,463.5V464.7M431.66,276V277.2M431.66,284.8V286M431.66,463.5V464.7M435.42,276V277.2M435.42,284.8V286M435.42,463.5V464.7M439.18,276V277.2M439.18,284.8V286M439.18,463.5V464.7M442.94,276V277.2M442.94,284.8V286M442.94,463.5V464.7M446.7,276V277.2M446.7,284.8V286M446.7,463.5V464.7M450.46,276V277.2M450.46,284.8V286M450.46,463.5V464.7M454.22,276V277.2M454.22,284.8V286M454.22,463.5V464.7M457.98,276V277.2M457.98,284.8V286M457.98,463.5V464.7M461.74,276V277.2M461.74,284.8V286M461.74,463.5V464.7M465.5,276V277.2M465.5,284.8V286M465.5,463.5V464.7M469.26,276V277.2M469.26,284.8V286M469.26,463.5V464.7M473.02,276V277.2M473.02,284.8V286M473.02,463.5V464.7M476.78,276V277.2M476.78,284.8V286M476.78,463.5V464.7M480.54,276V277.2M480.54,284.8V286M480.54,463.5V464.7M484.3,276V277.2M484.3,284.8V286M484.3,463.5V464.7M488.06,276V277.2M488.06,284.8V286M488.06,463.5V464.7M491.82,276V277.2M491.82,284.8V286M491.82,463.5V464.7M495.58,276V277.2M495.58,284.8V286M495.58,463.5V464.7M499.34,276V277.2M499.34,284.8V286M499.34,463.5V464.7M503.1,276V277.2M503.1,284.8V286M503.1,463.5V464.7M506.86,276V277.2M506.86,284.8V286M506.86,463.5V464.7M510.62,276V277.2M510.62,284.8V286M510.62,463.5V464.7M514.38,276V277.2M514.38,284.8V286M514.38,463.5V464.7M518.14,276V277.2M518.14,284.8V286M518.14,463.5V464.7M521.9,276V277.2M521.9,284.8V286M521.9,463.5V464.7M525.66,276V277.2M525.66,284.8V286M525.66,463.5V464.7M529.42,276V277.2M529.42,284.8V286M529.42,463.5V464.7M533.18,276V277.2M533.18,284.8V286M533.18,463.5V464.7M536.94,276V277.2M536.94,284.8V286M536.94,463.5V464.7M540.7,276V277.2M540.7,284.8V286M540.7,463.5V464.7M544.46,276V277.2M544.46,284.8V286M544.46,463.5V464.7M548.22,276V277.2M548.22,284.8V286M548.22,463.5V464.7M551.98,276V277.2M551.98,284.8V286M551.98,463.5V464.7M555.74,276V277.2M555.74,284.8V286M555.74,463.5V464.7M559.5,276V277.2M559.5,284.8V286M559.5,463.5V464.7M563.26,276V277.2M563.26,284.8V286M563.26,463.5V464.7M567.02,276V277.2M567.02,284.8V286M567.02,463.5V464.7M570.78,276V277.2M570.78,284.8V286M570.78,463.5V464.7M574.54,276V277.2M574.54,284.8V286M574.54,463.5V464.7M578.3,276V277.2M578.3,284.8V286M578.3,463.5V464.7M582.06,276V277.2M582.06,284.8V286M582.06,463.5V464.7M585.82,276V277.2M585.82,284.8V286M585.82,463.5V464.7M589.58,276V277.2M589.58,284.8V286M589.58,463.5V464.7M593.34,276V277.2M593.34,284.8V286M593.34,463.5V464.7M597.1,276V277.2M597.1,284.8V286M597.1,463.5V464.7M600.86,276V277.2M600.86,284.8V286M600.86,463.5V464.7" stroke="#c4c4c4" stroke-width="0.6" fill="none"/>
<text x="21.43" y="283.6" font-size="8.2" fill="#111" textLength="8.3" lengthAdjust="spacingAndGlyphs">15</text>
<text x="40.23" y="283.6" font-size="8.2" fill="#111" textLength="8.3" lengthAdjust="spacingAndGlyphs">22</text>
<text x="59.03" y="283.6" font-size="8.2" fill="#111" textLength="8.3" lengthAdjust="spacingAndGlyphs">29</text>
<text x="67.11" y="283.6" font-size="8.2" font-weight="bold" fill="#111" textLength="14.7" lengthAdjust="spacingAndGlyphs">Sep</text>
<text x="92.87" y="283.6" font-size="8.2" fill="#111" textLength="8.3" lengthAdjust="spacingAndGlyphs">12</text>
<text x="111.67" y="283.6" font-size="8.2" fill="#111" textLength="8.3" lengthAdjust="spacingAndGlyphs">19</text>
<text x="130.47" y="283.6" font-size="8.2" fill="#111" textLength="8.3" lengthAdjust="spacingAndGlyphs">26</text>
<text x="146.07" y="283.6" font-size="8.2" font-weight="bold" fill="#111" textLength="14.7" lengthAdjust="spacingAndGlyphs">Oct</text>
<text x="168.07" y="283.6" font-size="8.2" fill="#111" textLength="8.3" lengthAdjust="spacingAndGlyphs">10</text>
<text x="186.87" y="283.6" font-size="8.2" fill="#111" textLength="8.3" lengthAdjust="spacingAndGlyphs">17</text>
<text x="205.67" y="283.6" font-size="8.2" fill="#111" textLength="8.3" lengthAdjust="spacingAndGlyphs">24</text>
<text x="225.03" y="283.6" font-size="8.2" font-weight="bold" fill="#111" textLength="14.7" lengthAdjust="spacingAndGlyphs">Nov</text>
<text x="245.34" y="283.6" font-size="8.2" fill="#111" textLength="4.15" lengthAdjust="spacingAndGlyphs">7</text>
<text x="262.07" y="283.6" font-size="8.2" fill="#111" textLength="8.3" lengthAdjust="spacingAndGlyphs">14</text>
<text x="280.87" y="283.6" font-size="8.2" fill="#111" textLength="8.3" lengthAdjust="spacingAndGlyphs">21</text>
<text x="295.91" y="283.6" font-size="8.2" fill="#111" textLength="8.3" lengthAdjust="spacingAndGlyphs">28</text>
<text x="303.99" y="283.6" font-size="8.2" font-weight="bold" fill="#111" textLength="14.7" lengthAdjust="spacingAndGlyphs">Dec</text>
<text x="333.51" y="283.6" font-size="8.2" fill="#111" textLength="8.3" lengthAdjust="spacingAndGlyphs">12</text>
<text x="352.31" y="283.6" font-size="8.2" fill="#111" textLength="8.3" lengthAdjust="spacingAndGlyphs">19</text>
<text x="371.11" y="283.6" font-size="8.2" fill="#111" textLength="8.3" lengthAdjust="spacingAndGlyphs">27</text>
<text x="382.2" y="283.6" font-size="8.2" font-weight="bold" fill="#111" textLength="16.2" lengthAdjust="spacingAndGlyphs">2023</text>
<text x="403.26" y="283.6" font-size="8.2" fill="#111" textLength="4.15" lengthAdjust="spacingAndGlyphs">9</text>
<text x="419.99" y="283.6" font-size="8.2" fill="#111" textLength="8.3" lengthAdjust="spacingAndGlyphs">17</text>
<text x="435.03" y="283.6" font-size="8.2" fill="#111" textLength="8.3" lengthAdjust="spacingAndGlyphs">23</text>
<text x="458.15" y="283.6" font-size="8.2" font-weight="bold" fill="#111" textLength="14.7" lengthAdjust="spacingAndGlyphs">Feb</text>
<text x="474.7" y="283.6" font-size="8.2" fill="#111" textLength="4.15" lengthAdjust="spacingAndGlyphs">6</text>
<text x="491.43" y="283.6" font-size="8.2" fill="#111" textLength="8.3" lengthAdjust="spacingAndGlyphs">13</text>
<text x="510.23" y="283.6" font-size="8.2" fill="#111" textLength="8.3" lengthAdjust="spacingAndGlyphs">21</text>
<text x="529.59" y="283.6" font-size="8.2" font-weight="bold" fill="#111" textLength="14.7" lengthAdjust="spacingAndGlyphs">Mar</text>
<text x="546.14" y="283.6" font-size="8.2" fill="#111" textLength="4.15" lengthAdjust="spacingAndGlyphs">6</text>
<text x="562.87" y="283.6" font-size="8.2" fill="#111" textLength="8.3" lengthAdjust="spacingAndGlyphs">13</text>
<text x="581.67" y="283.6" font-size="8.2" fill="#111" textLength="8.3" lengthAdjust="spacingAndGlyphs">20</text>
<text x="21.43" y="471.6" font-size="8.2" fill="#111" textLength="8.3" lengthAdjust="spacingAndGlyphs">15</text>
<text x="40.23" y="471.6" font-size="8.2" fill="#111" textLength="8.3" lengthAdjust="spacingAndGlyphs">22</text>
<text x="59.03" y="471.6" font-size="8.2" fill="#111" textLength="8.3" lengthAdjust="spacingAndGlyphs">29</text>
<text x="67.11" y="471.6" font-size="8.2" font-weight="bold" fill="#111" textLength="14.7" lengthAdjust="spacingAndGlyphs">Sep</text>
<text x="92.87" y="471.6" font-size="8.2" fill="#111" textLength="8.3" lengthAdjust="spacingAndGlyphs">12</text>
<text x="111.67" y="471.6" font-size="8.2" fill="#111" textLength="8.3" lengthAdjust="spacingAndGlyphs">19</text>
<text x="130.47" y="471.6" font-size="8.2" fill="#111" textLength="8.3" lengthAdjust="spacingAndGlyphs">26</text>
<text x="146.07" y="471.6" font-size="8.2" font-weight="bold" fill="#111" textLength="14.7" lengthAdjust="spacingAndGlyphs">Oct</text>
<text x="168.07" y="471.6" font-size="8.2" fill="#111" textLength="8.3" lengthAdjust="spacingAndGlyphs">10</text>
<text x="186.87" y="471.6" font-size="8.2" fill="#111" textLength="8.3" lengthAdjust="spacingAndGlyphs">17</text>
<text x="205.67" y="471.6" font-size="8.2" fill="#111" textLength="8.3" lengthAdjust="spacingAndGlyphs">24</text>
<text x="225.03" y="471.6" font-size="8.2" font-weight="bold" fill="#111" textLength="14.7" lengthAdjust="spacingAndGlyphs">Nov</text>
<text x="245.34" y="471.6" font-size="8.2" fill="#111" textLength="4.15" lengthAdjust="spacingAndGlyphs">7</text>
<text x="262.07" y="471.6" font-size="8.2" fill="#111" textLength="8.3" lengthAdjust="spacingAndGlyphs">14</text>
<text x="280.87" y="471.6" font-size="8.2" fill="#111" textLength="8.3" lengthAdjust="spacingAndGlyphs">21</text>
<text x="295.91" y="471.6" font-size="8.2" fill="#111" textLength="8.3" lengthAdjust="spacingAndGlyphs">28</text>
<text x="303.99" y="471.6" font-size="8.2" font-weight="bold" fill="#111" textLength="14.7" lengthAdjust="spacingAndGlyphs">Dec</text>
<text x="333.51" y="471.6" font-size="8.2" fill="#111" textLength="8.3" lengthAdjust="spacingAndGlyphs">12</text>
<text x="352.31" y="471.6" font-size="8.2" fill="#111" textLength="8.3" lengthAdjust="spacingAndGlyphs">19</text>
<text x="371.11" y="471.6" font-size="8.2" fill="#111" textLength="8.3" lengthAdjust="spacingAndGlyphs">27</text>
<text x="382.2" y="471.6" font-size="8.2" font-weight="bold" fill="#111" textLength="16.2" lengthAdjust="spacingAndGlyphs">2023</text>
<text x="403.26" y="471.6" font-size="8.2" fill="#111" textLength="4.15" lengthAdjust="spacingAndGlyphs">9</text>
<text x="419.99" y="471.6" font-size="8.2" fill="#111" textLength="8.3" lengthAdjust="spacingAndGlyphs">17</text>
<text x="435.03" y="471.6" font-size="8.2" fill="#111" textLength="8.3" lengthAdjust="spacingAndGlyphs">23</text>
<text x="458.15" y="471.6" font-size="8.2" font-weight="bold" fill="#111" textLength="14.7" lengthAdjust="spacingAndGlyphs">Feb</text>
<text x="474.7" y="471.6" font-size="8.2" fill="#111" textLength="4.15" lengthAdjust="spacingAndGlyphs">6</text>
<text x="491.43" y="471.6" font-size="8.2" fill="#111" textLength="8.3" lengthAdjust="spacingAndGlyphs">13</text>
<text x="510.23" y="471.6" font-size="8.2" fill="#111" textLength="8.3" lengthAdjust="spacingAndGlyphs">21</text>
<text x="529.59" y="471.6" font-size="8.2" font-weight="bold" fill="#111" textLength="14.7" lengthAdjust="spacingAndGlyphs">Mar</text>
<text x="546.14" y="471.6" font-size="8.2" fill="#111" textLength="4.15" lengthAdjust="spacingAndGlyphs">6</text>
<text x="562.87" y="471.6" font-size="8.2" fill="#111" textLength="8.3" lengthAdjust="spacingAndGlyphs">13</text>
<text x="581.67" y="471.6" font-size="8.2" fill="#111" textLength="8.3" lengthAdjust="spacingAndGlyphs">20</text>
<g id="vol">
<path d="M25.58,286.5V374.5M44.38,286.5V374.5M63.18,286.5V374.5M81.98,286.5V374.5M97.02,286.5V374.5M115.82,286.5V374.5M134.62,286.5V374.5M172.22,286.5V374.5M191.02,286.5V374.5M209.82,286.5V374.5M228.62,286.5V374.5M247.42,286.5V374.5M266.22,286.5V374.5M285.02,286.5V374.5M300.06,286.5V374.5M318.86,286.5V374.5M337.66,286.5V374.5M356.46,286.5V374.5M375.26,286.5V374.5M405.34,286.5V374.5M424.14,286.5V374.5M439.18,286.5V374.5M457.98,286.5V374.5M476.78,286.5V374.5M495.58,286.5V374.5M514.38,286.5V374.5M529.42,286.5V374.5M548.22,286.5V374.5M567.02,286.5V374.5M585.82,286.5V374.5" stroke="#ebebeb" stroke-width="1.6" fill="none"/>
<path d="M74.46,286.5V374.5M153.42,286.5V374.5M232.38,286.5V374.5M311.34,286.5V374.5M390.3,286.5V374.5M465.5,286.5V374.5M536.94,286.5V374.5" stroke="#cacaca" stroke-width="1.1" fill="none"/>
<line x1="12.5" y1="359.74" x2="606.5" y2="359.74" stroke="#ebebeb" stroke-width="1.1"/>
<line x1="12.5" y1="344.28" x2="606.5" y2="344.28" stroke="#ebebeb" stroke-width="1.1"/>
<line x1="12.5" y1="328.82" x2="606.5" y2="328.82" stroke="#ebebeb" stroke-width="1.1"/>
<line x1="12.5" y1="313.36" x2="606.5" y2="313.36" stroke="#ebebeb" stroke-width="1.1"/>
<line x1="12.5" y1="297.9" x2="606.5" y2="297.9" stroke="#ebebeb" stroke-width="1.1"/>
<rect x="13.47" y="340.56" width="3.06" height="33.94" fill="#868686" stroke="#484848" stroke-width="0.8"/>
<rect x="17.23" y="342.57" width="3.06" height="31.93" fill="#d4717f" stroke="#b4324a" stroke-width="0.8"/>
<rect x="20.99" y="346.59" width="3.06" height="27.91" fill="#868686" stroke="#484848" stroke-width="0.8"/>
<rect x="24.75" y="347.51" width="3.06" height="26.99" fill="#868686" stroke="#484848" stroke-width="0.8"/>
<rect x="28.51" y="345.66" width="3.06" height="28.84" fill="#868686" stroke="#484848" stroke-width="0.8"/>
<rect x="32.27" y="346.59" width="3.06" height="27.91" fill="#d4717f" stroke="#b4324a" stroke-width="0.8"/>
<rect x="36.03" y="347.82" width="3.06" height="26.68" fill="#868686" stroke="#484848" stroke-width="0.8"/>
<rect x="39.79" y="343.5" width="3.06" height="31" fill="#d4717f" stroke="#b4324a" stroke-width="0.8"/>
<rect x="43.55" y="344.27" width="3.06" height="30.23" fill="#d4717f" stroke="#b4324a" stroke-width="0.8"/>
<rect x="47.31" y="347.05" width="3.06" height="27.45" fill="#d4717f" stroke="#b4324a" stroke-width="0.8"/>
<rect x="51.07" y="347.82" width="3.06" height="26.68" fill="#868686" stroke="#484848" stroke-width="0.8"/>
<rect x="54.83" y="346.59" width="3.06" height="27.91" fill="#868686" stroke="#484848" stroke-width="0.8"/>
<rect x="58.59" y="342.41" width="3.06" height="32.09" fill="#d4717f" stroke="#b4324a" stroke-width="0.8"/>
<rect x="62.35" y="345.66" width="3.06" height="28.84" fill="#d4717f" stroke="#b4324a" stroke-width="0.8"/>
<rect x="66.11" y="342.41" width="3.06" height="32.09" fill="#d4717f" stroke="#b4324a" stroke-width="0.8"/>
<rect x="69.87" y="335.62" width="3.06" height="38.88" fill="#d4717f" stroke="#b4324a" stroke-width="0.8"/>
<rect x="73.63" y="339.79" width="3.06" height="34.71" fill="#868686" stroke="#484848" stroke-width="0.8"/>
<rect x="77.39" y="341.33" width="3.06" height="33.17" fill="#d4717f" stroke="#b4324a" stroke-width="0.8"/>
<rect x="81.15" y="340.56" width="3.06" height="33.94" fill="#d4717f" stroke="#b4324a" stroke-width="0.8"/>
<rect x="84.91" y="341.33" width="3.06" height="33.17" fill="#868686" stroke="#484848" stroke-width="0.8"/>
<rect x="88.67" y="339.79" width="3.06" height="34.71" fill="#868686" stroke="#484848" stroke-width="0.8"/>
<rect x="92.43" y="341.8" width="3.06" height="32.7" fill="#868686" stroke="#484848" stroke-width="0.8"/>
<rect x="96.19" y="341.8" width="3.06" height="32.7" fill="#868686" stroke="#484848" stroke-width="0.8"/>
<rect x="99.95" y="334.53" width="3.06" height="39.97" fill="#d4717f" stroke="#b4324a" stroke-width="0.8"/>
<rect x="103.71" y="336.7" width="3.06" height="37.8" fill="#868686" stroke="#484848" stroke-width="0.8"/>
<rect x="107.47" y="336.7" width="3.06" height="37.8" fill="#d4717f" stroke="#b4324a" stroke-width="0.8"/>
<rect x="111.23" y="306.42" width="3.06" height="68.08" fill="#d4717f" stroke="#b4324a" stroke-width="0.8"/>
<rect x="114.99" y="341.8" width="3.06" height="32.7" fill="#868686" stroke="#484848" stroke-width="0.8"/>
<rect x="118.75" y="338.4" width="3.06" height="36.1" fill="#d4717f" stroke="#b4324a" stroke-width="0.8"/>
<rect x="122.51" y="336.7" width="3.06" height="37.8" fill="#d4717f" stroke="#b4324a" stroke-width="0.8"/>
<rect x="126.27" y="337.62" width="3.06" height="36.88" fill="#d4717f" stroke="#b4324a" stroke-width="0.8"/>
<rect x="130.03" y="331.29" width="3.06" height="43.21" fill="#d4717f" stroke="#b4324a" stroke-width="0.8"/>
<rect x="133.79" y="334.69" width="3.06" height="39.81" fill="#d4717f" stroke="#b4324a" stroke-width="0.8"/>
<rect x="137.55" y="335.93" width="3.06" height="38.58" fill="#d4717f" stroke="#b4324a" stroke-width="0.8"/>
<rect x="141.31" y="334.69" width="3.06" height="39.81" fill="#868686" stroke="#484848" stroke-width="0.8"/>
<rect x="145.07" y="335.31" width="3.06" height="39.19" fill="#d4717f" stroke="#b4324a" stroke-width="0.8"/>
<rect x="148.83" y="320.78" width="3.06" height="53.72" fill="#d4717f" stroke="#b4324a" stroke-width="0.8"/>
<rect x="152.59" y="332.22" width="3.06" height="42.28" fill="#868686" stroke="#484848" stroke-width="0.8"/>
<rect x="156.35" y="329.59" width="3.06" height="44.91" fill="#868686" stroke="#484848" stroke-width="0.8"/>
<rect x="160.11" y="336.7" width="3.06" height="37.8" fill="#d4717f" stroke="#b4324a" stroke-width="0.8"/>
<rect x="163.87" y="335.93" width="3.06" height="38.58" fill="#d4717f" stroke="#b4324a" stroke-width="0.8"/>
<rect x="167.63" y="332.53" width="3.06" height="41.97" fill="#d4717f" stroke="#b4324a" stroke-width="0.8"/>
<rect x="171.39" y="338.4" width="3.06" height="36.1" fill="#d4717f" stroke="#b4324a" stroke-width="0.8"/>
<rect x="175.15" y="332.06" width="3.06" height="42.44" fill="#d4717f" stroke="#b4324a" stroke-width="0.8"/>
<rect x="178.91" y="338.4" width="3.06" height="36.1" fill="#d4717f" stroke="#b4324a" stroke-width="0.8"/>
<rect x="182.67" y="326.35" width="3.06" height="48.15" fill="#868686" stroke="#484848" stroke-width="0.8"/>
<rect x="186.43" y="333.76" width="3.06" height="40.74" fill="#d4717f" stroke="#b4324a" stroke-width="0.8"/>
<rect x="190.19" y="335.31" width="3.06" height="39.19" fill="#868686" stroke="#484848" stroke-width="0.8"/>
<rect x="193.95" y="334.69" width="3.06" height="39.81" fill="#868686" stroke="#484848" stroke-width="0.8"/>
<rect x="197.71" y="338.4" width="3.06" height="36.1" fill="#d4717f" stroke="#b4324a" stroke-width="0.8"/>
<rect x="201.47" y="334.69" width="3.06" height="39.81" fill="#d4717f" stroke="#b4324a" stroke-width="0.8"/>
<rect x="205.23" y="328.66" width="3.06" height="45.84" fill="#868686" stroke="#484848" stroke-width="0.8"/>
<rect x="208.99" y="335.31" width="3.06" height="39.19" fill="#868686" stroke="#484848" stroke-width="0.8"/>
<rect x="212.75" y="332.53" width="3.06" height="41.97" fill="#868686" stroke="#484848" stroke-width="0.8"/>
<rect x="216.51" y="330.52" width="3.06" height="43.98" fill="#d4717f" stroke="#b4324a" stroke-width="0.8"/>
<rect x="220.27" y="327.43" width="3.06" height="47.07" fill="#d4717f" stroke="#b4324a" stroke-width="0.8"/>
<rect x="224.03" y="330.83" width="3.06" height="43.67" fill="#868686" stroke="#484848" stroke-width="0.8"/>
<rect x="227.79" y="330.52" width="3.06" height="43.98" fill="#d4717f" stroke="#b4324a" stroke-width="0.8"/>
<rect x="231.55" y="334.23" width="3.06" height="40.27" fill="#d4717f" stroke="#b4324a" stroke-width="0.8"/>
<rect x="235.31" y="327.43" width="3.06" height="47.07" fill="#d4717f" stroke="#b4324a" stroke-width="0.8"/>
<rect x="239.07" y="331.75" width="3.06" height="42.75" fill="#d4717f" stroke="#b4324a" stroke-width="0.8"/>
<rect x="242.83" y="328.66" width="3.06" height="45.84" fill="#868686" stroke="#484848" stroke-width="0.8"/>
<rect x="246.59" y="336.7" width="3.06" height="37.8" fill="#868686" stroke="#484848" stroke-width="0.8"/>
<rect x="250.35" y="335" width="3.06" height="39.5" fill="#868686" stroke="#484848" stroke-width="0.8"/>
<rect x="254.11" y="335.31" width="3.06" height="39.19" fill="#d4717f" stroke="#b4324a" stroke-width="0.8"/>
<rect x="257.87" y="323.72" width="3.06" height="50.78" fill="#868686" stroke="#484848" stroke-width="0.8"/>
<rect x="261.63" y="328.66" width="3.06" height="45.84" fill="#868686" stroke="#484848" stroke-width="0.8"/>
<rect x="265.39" y="335.31" width="3.06" height="39.19" fill="#d4717f" stroke="#b4324a" stroke-width="0.8"/>
<rect x="269.15" y="332.22" width="3.06" height="42.28" fill="#868686" stroke="#484848" stroke-width="0.8"/>
<rect x="272.91" y="338.4" width="3.06" height="36.1" fill="#d4717f" stroke="#b4324a" stroke-width="0.8"/>
<rect x="276.67" y="341.49" width="3.06" height="33.01" fill="#d4717f" stroke="#b4324a" stroke-width="0.8"/>
<rect x="280.43" y="340.87" width="3.06" height="33.63" fill="#868686" stroke="#484848" stroke-width="0.8"/>
<rect x="284.19" y="342.57" width="3.06" height="31.93" fill="#d4717f" stroke="#b4324a" stroke-width="0.8"/>
<rect x="287.95" y="344.73" width="3.06" height="29.77" fill="#868686" stroke="#484848" stroke-width="0.8"/>
<rect x="291.71" y="348.13" width="3.06" height="26.37" fill="#868686" stroke="#484848" stroke-width="0.8"/>
<rect x="295.47" y="360.65" width="3.06" height="13.85" fill="#d4717f" stroke="#b4324a" stroke-width="0.8"/>
<rect x="299.23" y="342.57" width="3.06" height="31.93" fill="#d4717f" stroke="#b4324a" stroke-width="0.8"/>
<rect x="302.99" y="345.66" width="3.06" height="28.84" fill="#d4717f" stroke="#b4324a" stroke-width="0.8"/>
<rect x="306.75" y="317.85" width="3.06" height="56.65" fill="#868686" stroke="#484848" stroke-width="0.8"/>
<rect x="310.51" y="338.71" width="3.06" height="35.79" fill="#d4717f" stroke="#b4324a" stroke-width="0.8"/>
<rect x="314.27" y="342.26" width="3.06" height="32.24" fill="#d4717f" stroke="#b4324a" stroke-width="0.8"/>
<rect x="318.03" y="339.63" width="3.06" height="34.87" fill="#d4717f" stroke="#b4324a" stroke-width="0.8"/>
<rect x="321.79" y="338.71" width="3.06" height="35.79" fill="#d4717f" stroke="#b4324a" stroke-width="0.8"/>
<rect x="325.55" y="340.41" width="3.06" height="34.09" fill="#d4717f" stroke="#b4324a" stroke-width="0.8"/>
<rect x="329.31" y="341.49" width="3.06" height="33.01" fill="#868686" stroke="#484848" stroke-width="0.8"/>
<rect x="333.07" y="342.11" width="3.06" height="32.4" fill="#d4717f" stroke="#b4324a" stroke-width="0.8"/>
<rect x="336.83" y="339.63" width="3.06" height="34.87" fill="#868686" stroke="#484848" stroke-width="0.8"/>
<rect x="340.59" y="327.43" width="3.06" height="47.07" fill="#868686" stroke="#484848" stroke-width="0.8"/>
<rect x="344.35" y="335.31" width="3.06" height="39.19" fill="#d4717f" stroke="#b4324a" stroke-width="0.8"/>
<rect x="348.11" y="333.76" width="3.06" height="40.74" fill="#d4717f" stroke="#b4324a" stroke-width="0.8"/>
<rect x="351.87" y="297.76" width="3.06" height="76.74" fill="#d4717f" stroke="#b4324a" stroke-width="0.8"/>
<rect x="355.63" y="339.79" width="3.06" height="34.71" fill="#d4717f" stroke="#b4324a" stroke-width="0.8"/>
<rect x="359.39" y="340.56" width="3.06" height="33.94" fill="#868686" stroke="#484848" stroke-width="0.8"/>
<rect x="363.15" y="341.8" width="3.06" height="32.7" fill="#868686" stroke="#484848" stroke-width="0.8"/>
<rect x="366.91" y="338.24" width="3.06" height="36.26" fill="#d4717f" stroke="#b4324a" stroke-width="0.8"/>
<rect x="370.67" y="350.6" width="3.06" height="23.9" fill="#868686" stroke="#484848" stroke-width="0.8"/>
<rect x="374.43" y="347.98" width="3.06" height="26.52" fill="#d4717f" stroke="#b4324a" stroke-width="0.8"/>
<rect x="378.19" y="347.98" width="3.06" height="26.52" fill="#d4717f" stroke="#b4324a" stroke-width="0.8"/>
<rect x="381.95" y="347.98" width="3.06" height="26.52" fill="#868686" stroke="#484848" stroke-width="0.8"/>
<rect x="385.71" y="349.06" width="3.06" height="25.44" fill="#d4717f" stroke="#b4324a" stroke-width="0.8"/>
<rect x="389.47" y="338.4" width="3.06" height="36.1" fill="#d4717f" stroke="#b4324a" stroke-width="0.8"/>
<rect x="393.23" y="335.77" width="3.06" height="38.73" fill="#868686" stroke="#484848" stroke-width="0.8"/>
<rect x="396.99" y="340.56" width="3.06" height="33.94" fill="#d4717f" stroke="#b4324a" stroke-width="0.8"/>
<rect x="400.75" y="337.78" width="3.06" height="36.72" fill="#868686" stroke="#484848" stroke-width="0.8"/>
<rect x="404.51" y="336.7" width="3.06" height="37.8" fill="#d4717f" stroke="#b4324a" stroke-width="0.8"/>
<rect x="408.27" y="342.11" width="3.06" height="32.4" fill="#868686" stroke="#484848" stroke-width="0.8"/>
<rect x="412.03" y="338.71" width="3.06" height="35.79" fill="#868686" stroke="#484848" stroke-width="0.8"/>
<rect x="415.79" y="336.7" width="3.06" height="37.8" fill="#868686" stroke="#484848" stroke-width="0.8"/>
<rect x="419.55" y="339.48" width="3.06" height="35.02" fill="#868686" stroke="#484848" stroke-width="0.8"/>
<rect x="423.31" y="336.7" width="3.06" height="37.8" fill="#d4717f" stroke="#b4324a" stroke-width="0.8"/>
<rect x="427.07" y="335.93" width="3.06" height="38.58" fill="#d4717f" stroke="#b4324a" stroke-width="0.8"/>
<rect x="430.83" y="338.09" width="3.06" height="36.41" fill="#d4717f" stroke="#b4324a" stroke-width="0.8"/>
<rect x="434.59" y="335.31" width="3.06" height="39.19" fill="#868686" stroke="#484848" stroke-width="0.8"/>
<rect x="438.35" y="337.62" width="3.06" height="36.88" fill="#868686" stroke="#484848" stroke-width="0.8"/>
<rect x="442.11" y="341.49" width="3.06" height="33.01" fill="#d4717f" stroke="#b4324a" stroke-width="0.8"/>
<rect x="445.87" y="338.71" width="3.06" height="35.79" fill="#d4717f" stroke="#b4324a" stroke-width="0.8"/>
<rect x="449.63" y="337.62" width="3.06" height="36.88" fill="#868686" stroke="#484848" stroke-width="0.8"/>
<rect x="453.39" y="335.31" width="3.06" height="39.19" fill="#868686" stroke="#484848" stroke-width="0.8"/>
<rect x="457.15" y="338.09" width="3.06" height="36.41" fill="#d4717f" stroke="#b4324a" stroke-width="0.8"/>
<rect x="460.91" y="330.67" width="3.06" height="43.83" fill="#868686" stroke="#484848" stroke-width="0.8"/>
<rect x="464.67" y="328.97" width="3.06" height="45.53" fill="#868686" stroke="#484848" stroke-width="0.8"/>
<rect x="468.43" y="323.26" width="3.06" height="51.24" fill="#868686" stroke="#484848" stroke-width="0.8"/>
<rect x="472.19" y="330.52" width="3.06" height="43.98" fill="#d4717f" stroke="#b4324a" stroke-width="0.8"/>
<rect x="475.95" y="339.63" width="3.06" height="34.87" fill="#d4717f" stroke="#b4324a" stroke-width="0.8"/>
<rect x="479.71" y="334.69" width="3.06" height="39.81" fill="#868686" stroke="#484848" stroke-width="0.8"/>
<rect x="483.47" y="336.85" width="3.06" height="37.65" fill="#d4717f" stroke="#b4324a" stroke-width="0.8"/>
<rect x="487.23" y="335" width="3.06" height="39.5" fill="#d4717f" stroke="#b4324a" stroke-width="0.8"/>
<rect x="490.99" y="339.63" width="3.06" height="34.87" fill="#868686" stroke="#484848" stroke-width="0.8"/>
<rect x="494.75" y="342.57" width="3.06" height="31.93" fill="#868686" stroke="#484848" stroke-width="0.8"/>
<rect x="498.51" y="341.33" width="3.06" height="33.17" fill="#d4717f" stroke="#b4324a" stroke-width="0.8"/>
<rect x="502.27" y="342.57" width="3.06" height="31.93" fill="#868686" stroke="#484848" stroke-width="0.8"/>
<rect x="506.03" y="340.56" width="3.06" height="33.94" fill="#d4717f" stroke="#b4324a" stroke-width="0.8"/>
<rect x="509.79" y="338.09" width="3.06" height="36.41" fill="#d4717f" stroke="#b4324a" stroke-width="0.8"/>
<rect x="513.55" y="339.01" width="3.06" height="35.49" fill="#d4717f" stroke="#b4324a" stroke-width="0.8"/>
<rect x="517.31" y="340.25" width="3.06" height="34.25" fill="#d4717f" stroke="#b4324a" stroke-width="0.8"/>
<rect x="521.07" y="339.63" width="3.06" height="34.87" fill="#868686" stroke="#484848" stroke-width="0.8"/>
<rect x="524.83" y="341.64" width="3.06" height="32.86" fill="#d4717f" stroke="#b4324a" stroke-width="0.8"/>
<rect x="528.59" y="342.57" width="3.06" height="31.93" fill="#868686" stroke="#484848" stroke-width="0.8"/>
<rect x="532.35" y="332.06" width="3.06" height="42.44" fill="#d4717f" stroke="#b4324a" stroke-width="0.8"/>
<rect x="536.11" y="340.25" width="3.06" height="34.25" fill="#d4717f" stroke="#b4324a" stroke-width="0.8"/>
<rect x="539.87" y="340.56" width="3.06" height="33.94" fill="#868686" stroke="#484848" stroke-width="0.8"/>
<rect x="543.63" y="340.56" width="3.06" height="33.94" fill="#868686" stroke="#484848" stroke-width="0.8"/>
<rect x="547.39" y="341.64" width="3.06" height="32.86" fill="#868686" stroke="#484848" stroke-width="0.8"/>
<rect x="551.15" y="339.48" width="3.06" height="35.02" fill="#d4717f" stroke="#b4324a" stroke-width="0.8"/>
<rect x="554.91" y="343.34" width="3.06" height="31.16" fill="#868686" stroke="#484848" stroke-width="0.8"/>
<rect x="558.67" y="335.15" width="3.06" height="39.35" fill="#d4717f" stroke="#b4324a" stroke-width="0.8"/>
<rect x="562.43" y="325.42" width="3.06" height="49.08" fill="#d4717f" stroke="#b4324a" stroke-width="0.8"/>
<rect x="566.19" y="313.37" width="3.06" height="61.13" fill="#d4717f" stroke="#b4324a" stroke-width="0.8"/>
<rect x="569.95" y="321.56" width="3.06" height="52.94" fill="#868686" stroke="#484848" stroke-width="0.8"/>
<rect x="573.71" y="317.69" width="3.06" height="56.81" fill="#d4717f" stroke="#b4324a" stroke-width="0.8"/>
<rect x="577.47" y="319.55" width="3.06" height="54.95" fill="#868686" stroke="#484848" stroke-width="0.8"/>
<rect x="581.23" y="291.74" width="3.06" height="82.76" fill="#d4717f" stroke="#b4324a" stroke-width="0.8"/>
<rect x="584.99" y="329.9" width="3.06" height="44.6" fill="#868686" stroke="#484848" stroke-width="0.8"/>
<rect x="588.75" y="329.9" width="3.06" height="44.6" fill="#868686" stroke="#484848" stroke-width="0.8"/>
<rect x="592.51" y="332.68" width="3.06" height="41.82" fill="#d4717f" stroke="#b4324a" stroke-width="0.8"/>
<rect x="596.27" y="331.75" width="3.06" height="42.75" fill="#868686" stroke="#484848" stroke-width="0.8"/>
<rect x="600.03" y="334.84" width="3.06" height="39.66" fill="#868686" stroke="#484848" stroke-width="0.8"/>
<rect x="12.7" y="342.6" width="0.6" height="31.9" fill="#d4717f"/>
<polyline fill="none" stroke="#ee1c24" stroke-width="1.1" points="12.6,337.66 15,337.83 18.76,338.01 22.52,338.33 26.28,338.68 30.04,338.94 33.8,339.22 37.56,339.55 41.32,339.69 45.08,339.85 48.84,340.12 52.6,340.41 56.36,340.64 60.12,340.69 63.88,340.87 67.64,340.92 71.4,340.7 75.16,340.65 78.92,340.66 82.68,340.65 86.44,340.66 90.2,340.61 93.96,340.64 97.72,340.68 101.48,340.42 105.24,340.26 109,340.11 112.76,338.77 116.52,338.88 120.28,338.84 124.04,338.75 127.8,338.69 131.56,338.39 135.32,338.23 139.08,338.12 142.84,337.97 146.6,337.86 150.36,337.17 154.12,336.96 157.88,336.66 161.64,336.65 165.4,336.61 169.16,336.43 172.92,336.5 176.68,336.31 180.44,336.38 184.2,335.97 187.96,335.87 191.72,335.83 195.48,335.78 199.24,335.86 203,335.8 206.76,335.51 210.52,335.49 214.28,335.36 218.04,335.16 221.8,334.84 225.56,334.67 229.32,334.49 233.08,334.47 236.84,334.18 240.6,334.07 244.36,333.84 248.12,333.94 251.88,333.97 255.64,334.01 259.4,333.59 263.16,333.38 266.92,333.45 270.68,333.38 274.44,333.57 278.2,333.86 281.96,334.12 285.72,334.44 289.48,334.83 293.24,335.34 297,336.32 300.76,336.55 304.52,336.89 308.28,336.13 312.04,336.22 315.8,336.44 319.56,336.55 323.32,336.62 327.08,336.76 330.84,336.93 334.6,337.12 338.36,337.2 342.12,336.81 345.88,336.74 349.64,336.6 353.4,335.07 357.16,335.24 360.92,335.43 364.68,335.67 368.44,335.76 372.2,336.33 375.96,336.77 379.72,337.19 383.48,337.6 387.24,338.04 391,338.04 394.76,337.94 398.52,338.03 402.28,338 406.04,337.94 409.8,338.09 413.56,338.1 417.32,338.03 421.08,338.07 424.84,338 428.6,337.91 432.36,337.9 436.12,337.79 439.88,337.77 443.64,337.9 447.4,337.92 451.16,337.89 454.92,337.78 458.68,337.78 462.44,337.48 466.2,337.14 469.96,336.58 473.72,336.33 477.48,336.44 481.24,336.36 485,336.37 488.76,336.3 492.52,336.41 496.28,336.64 500.04,336.81 503.8,337.02 507.56,337.15 511.32,337.17 515.08,337.23 518.84,337.34 522.6,337.41 526.36,337.56 530.12,337.75 533.88,337.51 537.64,337.6 541.4,337.71 545.16,337.8 548.92,337.94 552.68,337.99 556.44,338.18 560.2,338.05 563.96,337.54 567.72,336.58 571.48,335.98 575.24,335.25 579,334.62 582.76,332.92 586.52,332.79 590.28,332.66 594.04,332.65 597.8,332.6 601.56,332.68"/>
</g>
<rect x="12.5" y="286.5" width="594.0" height="88.0" fill="none" stroke="#bcbcbc" stroke-width="1"/>
<rect x="12.6" y="287.1" width="138" height="8.6" fill="#fff" fill-opacity="0.85"/>
<path d="M14.9,291.2V294.6M16.5,289.8V294.6M18.1,288.8V294.6M19.7,290.4V294.6" stroke="#333" stroke-width="1.3" fill="none"/>
<text x="23.4" y="294.2" font-size="7.8" fill="#111" textLength="126.8" lengthAdjust="spacingAndGlyphs">Volume 2.56B, EMA(50) 2.70B</text>
<text x="609" y="361.25" font-size="8.1" fill="#111" textLength="9.4" lengthAdjust="spacingAndGlyphs">1B</text>
<line x1="606.5" y1="359.74" x2="608.7" y2="359.74" stroke="#aaa" stroke-width="0.5"/>
<text x="609" y="345.95" font-size="8.1" fill="#111" textLength="9.4" lengthAdjust="spacingAndGlyphs">2B</text>
<line x1="606.5" y1="344.28" x2="608.7" y2="344.28" stroke="#aaa" stroke-width="0.5"/>
<text x="609" y="330.65" font-size="8.1" fill="#111" textLength="9.4" lengthAdjust="spacingAndGlyphs">3B</text>
<line x1="606.5" y1="328.82" x2="608.7" y2="328.82" stroke="#aaa" stroke-width="0.5"/>
<text x="609" y="315.35" font-size="8.1" fill="#111" textLength="9.4" lengthAdjust="spacingAndGlyphs">4B</text>
<line x1="606.5" y1="313.36" x2="608.7" y2="313.36" stroke="#aaa" stroke-width="0.5"/>
<text x="609" y="300.05" font-size="8.1" fill="#111" textLength="9.4" lengthAdjust="spacingAndGlyphs">5B</text>
<line x1="606.5" y1="297.9" x2="608.7" y2="297.9" stroke="#aaa" stroke-width="0.5"/>
<path d="M604.7,334.51L607.4,330.41H641V338.61H607.4Z" fill="#fff" stroke="#222" stroke-width="1.1" stroke-linejoin="round"/>
<text x="608.4" y="337.36" font-size="8.1" fill="#111" textLength="43.7" lengthAdjust="spacingAndGlyphs">2568886272</text>
<g id="adx">
<path d="M25.58,374.5V463.0M44.38,374.5V463.0M63.18,374.5V463.0M81.98,374.5V463.0M97.02,374.5V463.0M115.82,374.5V463.0M134.62,374.5V463.0M172.22,374.5V463.0M191.02,374.5V463.0M209.82,374.5V463.0M228.62,374.5V463.0M247.42,374.5V463.0M266.22,374.5V463.0M285.02,374.5V463.0M300.06,374.5V463.0M318.86,374.5V463.0M337.66,374.5V463.0M356.46,374.5V463.0M375.26,374.5V463.0M405.34,374.5V463.0M424.14,374.5V463.0M439.18,374.5V463.0M457.98,374.5V463.0M476.78,374.5V463.0M495.58,374.5V463.0M514.38,374.5V463.0M529.42,374.5V463.0M548.22,374.5V463.0M567.02,374.5V463.0M585.82,374.5V463.0" stroke="#ebebeb" stroke-width="1.6" fill="none"/>
<path d="M74.46,374.5V463.0M153.42,374.5V463.0M232.38,374.5V463.0M311.34,374.5V463.0M390.3,374.5V463.0M465.5,374.5V463.0M536.94,374.5V463.0" stroke="#cacaca" stroke-width="1.1" fill="none"/>
<line x1="12.5" y1="450" x2="606.5" y2="450" stroke="#ebebeb" stroke-width="1.1"/>
<line x1="12.5" y1="437" x2="606.5" y2="437" stroke="#ebebeb" stroke-width="1.1"/>
<line x1="12.5" y1="424" x2="606.5" y2="424" stroke="#ebebeb" stroke-width="1.1"/>
<line x1="12.5" y1="411" x2="606.5" y2="411" stroke="#ebebeb" stroke-width="1.1"/>
<line x1="12.5" y1="398" x2="606.5" y2="398" stroke="#ebebeb" stroke-width="1.1"/>
<line x1="12.5" y1="385" x2="606.5" y2="385" stroke="#ebebeb" stroke-width="1.1"/>
<polyline fill="none" stroke="#3c9a6c" stroke-width="1.15" stroke-linejoin="round" points="12.6,403.56 15,398.94 18.76,391.85 22.52,393.09 26.28,391.82 30.04,390.26 33.8,395.75 37.56,398.91 41.32,405.41 45.08,414.21 48.84,417.17 52.6,420.16 56.36,411.79 60.12,423.52 63.88,426.71 67.64,431.96 71.4,435.65 75.16,439.43 78.92,432.35 82.68,435.61 86.44,428.06 90.2,426.14 93.96,413.07 97.72,405.68 101.48,420.25 105.24,423.5 109,427.92 112.76,431.7 116.52,430.22 120.28,434.36 124.04,440.37 127.8,442.31 131.56,447.13 135.32,449.91 139.08,453.31 142.84,451.89 146.6,455.45 150.36,458.02 154.12,455.03 157.88,437.97 161.64,438.31 165.4,440.85 169.16,445.77 172.92,448.1 176.68,450.61 180.44,451.78 184.2,457.6 187.96,455.45 191.72,458.2 195.48,445.51 199.24,447.65 203,450.29 206.76,449.17 210.52,440.38 214.28,431.93 218.04,429.83 221.8,432.67 225.56,427.36 229.32,429.41 233.08,433.01 236.84,439.45 240.6,442.08 244.36,435.38 248.12,433.67 251.88,426.74 255.64,431.38 259.4,411.97 263.16,406.36 266.92,408.38 270.68,409.17 274.44,411.81 278.2,415.47 281.96,412.27 285.72,414.67 289.48,407.46 293.24,402.94 297,404.12 300.76,410.62 304.52,414.05 308.28,397.29 312.04,396.5 315.8,401.82 319.56,409.77 323.32,416.55 327.08,419.24 330.84,417.58 334.6,420.29 338.36,420.64 342.12,397.92 345.88,406.36 349.64,415.94 353.4,420.92 357.16,424.73 360.92,427.61 364.68,417.92 368.44,426.04 372.2,429.18 375.96,431.08 379.72,435.24 383.48,436.79 387.24,439.54 391,433.33 394.76,436.74 398.52,439.61 402.28,426.56 406.04,418.32 409.8,421.59 413.56,410.94 417.32,408.16 421.08,411.46 424.84,410.78 428.6,418.51 432.36,422.04 436.12,412.96 439.88,399.27 443.64,402.85 447.4,409.88 451.16,401.52 454.92,396.13 458.68,402.28 462.44,404.31 466.2,393.9 469.96,388.5 473.72,395.15 477.48,399.8 481.24,393.52 485,399.16 488.76,407.72 492.52,410.83 496.28,401.8 500.04,402.05 503.8,406.58 507.56,412.24 511.32,416.18 515.08,423.34 518.84,426.54 522.6,427.56 526.36,432.61 530.12,423.4 533.88,425.74 537.64,428.41 541.4,426.92 545.16,413.32 548.92,406.45 552.68,413.78 556.44,416.82 560.2,426.49 563.96,432.99 567.72,439.11 571.48,434.31 575.24,439.15 579,425.21 582.76,429.21 586.52,431.82 590.28,420.4 594.04,427.9 597.8,432.73 601.56,436.51"/>
<polyline fill="none" stroke="#b8325e" stroke-width="1.15" stroke-linejoin="round" points="12.6,444.71 15,446.27 18.76,448.69 22.52,451.63 26.28,453.35 30.04,455.12 33.8,450.16 37.56,451.48 41.32,441.71 45.08,422.02 48.84,422.99 52.6,424.54 56.36,428.95 60.12,413.64 63.88,406.11 67.64,398.76 71.4,401.65 75.16,393.76 78.92,404.61 82.68,404.25 86.44,411.31 90.2,416.52 93.96,421.75 97.72,425.39 101.48,397.47 105.24,399.55 109,399.67 112.76,392.38 116.52,398.21 120.28,401.84 124.04,402.17 127.8,395.59 131.56,380.48 135.32,387.04 139.08,390.75 142.84,399.32 146.6,400.98 150.36,401.73 154.12,410.14 157.88,417.6 161.64,422.61 165.4,425.94 169.16,406.96 172.92,404.25 176.68,405.11 180.44,407.67 184.2,403.14 187.96,411.98 191.72,418.31 195.48,422.95 199.24,422.07 203,424.24 206.76,429.86 210.52,433.13 214.28,436.12 218.04,438.85 221.8,436.75 225.56,441.08 229.32,442.67 233.08,440.99 236.84,427.77 240.6,417.43 244.36,422.82 248.12,425.71 251.88,429.83 255.64,424.53 259.4,435.31 263.16,437.8 266.92,440.06 270.68,443.21 274.44,444.72 278.2,435.55 281.96,437.75 285.72,438.68 289.48,441.48 293.24,443.2 297,443.86 300.76,428.92 304.52,426.28 308.28,435.43 312.04,438.23 315.8,434.42 319.56,427.94 323.32,415.47 327.08,418.21 330.84,421.34 334.6,424.69 338.36,428.8 342.12,435.95 345.88,433.38 349.64,417.4 353.4,408.81 357.16,405.9 360.92,408.42 364.68,414.19 368.44,403.19 372.2,407.48 375.96,410.39 379.72,407.06 383.48,413.54 387.24,416.09 391,422.57 394.76,426.64 398.52,426.29 402.28,432.75 406.04,436.33 409.8,435.06 413.56,438.09 417.32,441.49 421.08,444.49 424.84,446.08 428.6,433.31 432.36,423.76 436.12,429.34 439.88,433.91 443.64,436.11 447.4,428.17 451.16,431.62 454.92,434.74 458.68,427.96 462.44,432.33 466.2,439.5 469.96,443.7 473.72,441.3 477.48,434.71 481.24,440.05 485,442.94 488.76,435.31 492.52,434.73 496.28,437.78 500.04,441.61 503.8,444.07 507.56,442.71 511.32,432.03 515.08,421.55 518.84,419.12 522.6,424.08 526.36,421.36 530.12,425.27 533.88,426.06 537.64,418.67 541.4,424.31 545.16,429.77 548.92,432.37 552.68,416.1 556.44,415.43 560.2,405.79 563.96,395.22 567.72,394.41 571.48,402.99 575.24,400.55 579,409.89 582.76,414.85 586.52,418.09 590.28,422.59 594.04,420.22 597.8,424.61 601.56,422.57"/>
<polyline fill="none" stroke="#1a1a1a" stroke-width="1.6" stroke-linejoin="round" points="12.6,426.43 15,424.44 18.76,421.37 22.52,418.04 26.28,414.51 30.04,410.75 33.8,408.69 37.56,406.77 41.32,407.5 45.08,412.3 48.84,416.99 52.6,421.52 56.36,424.02 60.12,427.36 63.88,429.13 67.64,429.22 71.4,429 75.16,427.43 78.92,428.18 82.68,428.31 86.44,430.4 90.2,433.26 93.96,436.12 97.72,437.41 101.48,438.45 105.24,439.19 109,439.26 112.76,438.07 116.52,437.73 120.28,437.14 124.04,435.6 127.8,433.22 131.56,428.98 135.32,424.99 139.08,420.88 142.84,418.05 146.6,414.79 150.36,411.25 154.12,409.42 157.88,412.01 161.64,415.02 165.4,417.82 169.16,417.15 172.92,415.8 176.68,414.12 180.44,412.56 184.2,409.39 187.96,407.78 191.72,406.28 195.48,408.36 199.24,409.73 203,410.72 206.76,412.69 210.52,416.85 214.28,421.3 218.04,424.6 221.8,428.5 225.56,430.5 229.32,432.35 233.08,434.97 236.84,436.87 240.6,436.73 244.36,438.52 248.12,440.88 251.88,443.84 255.64,446.03 259.4,445.78 263.16,444.51 266.92,443.14 270.68,441.39 274.44,439.76 278.2,440.34 281.96,440.12 285.72,440.03 289.48,438.63 293.24,436.56 297,434.63 300.76,436.06 304.52,438.19 308.28,436.95 312.04,435.25 315.8,434.82 319.56,436.29 323.32,439.92 327.08,443.28 330.84,446.05 334.6,448.5 338.36,450.22 342.12,448.09 345.88,447.38 349.64,450.17 353.4,451.42 357.16,451.74 360.92,451.89 364.68,454.06 368.44,453.71 372.2,453.38 375.96,453.11 379.72,451.81 383.48,451.09 387.24,450.24 391,451.37 394.76,452.42 398.52,452.83 402.28,454.44 406.04,454.2 409.8,454.62 413.56,453.17 417.32,450.91 421.08,448.6 424.84,446.07 428.6,446.96 432.36,449.72 436.12,450.29 439.88,448.61 443.64,447.05 447.4,447.62 451.16,446.72 454.92,444.87 458.68,444.79 462.44,444.27 466.2,441.61 469.96,437.96 473.72,435.55 477.48,434.85 481.24,432.74 485,430.77 488.76,431.13 492.52,431.92 496.28,431.17 500.04,429.83 503.8,428.59 507.56,428.3 511.32,430.37 515.08,434.31 518.84,437.17 522.6,440.37 526.36,442.15 530.12,445.23 533.88,448.31 537.64,449.84 541.4,452.25 545.16,452.61 548.92,451.75 552.68,454.12 556.44,456.44 560.2,456.12 563.96,453.79 567.72,450.56 571.48,449.17 575.24,446.83 579,447.85 582.76,448.8 586.52,449.68 590.28,452.19 594.04,453.72 597.8,454.99 601.56,455.24"/>
</g>
<rect x="12.5" y="374.5" width="594.0" height="88.5" fill="none" stroke="#bcbcbc" stroke-width="1"/>
<rect x="12.6" y="375" width="192" height="8.4" fill="#fff" fill-opacity="0.85"/>
<line x1="14.9" y1="380" x2="20.5" y2="380" stroke="#111" stroke-width="1.5"/>
<text x="23.6" y="382.6" font-size="7.6" fill="#111" textLength="60.5" lengthAdjust="spacingAndGlyphs">ADX(14) 13.15</text>
<text x="88.7" y="382.6" font-size="7.6" fill="#1f7d48" textLength="42" lengthAdjust="spacingAndGlyphs">+DI 19.92</text>
<text x="133.8" y="382.6" font-size="7.6" fill="#b0244e" textLength="40.1" lengthAdjust="spacingAndGlyphs">-DI 25.10</text>
<text x="609" y="452.85" font-size="8.1" fill="#111" textLength="8.8" lengthAdjust="spacingAndGlyphs">15</text>
<line x1="606.5" y1="450" x2="608.7" y2="450" stroke="#aaa" stroke-width="0.5"/>
<text x="609" y="439.85" font-size="8.1" fill="#111" textLength="8.8" lengthAdjust="spacingAndGlyphs">20</text>
<line x1="606.5" y1="437" x2="608.7" y2="437" stroke="#aaa" stroke-width="0.5"/>
<text x="609" y="426.85" font-size="8.1" fill="#111" textLength="8.8" lengthAdjust="spacingAndGlyphs">25</text>
<line x1="606.5" y1="424" x2="608.7" y2="424" stroke="#aaa" stroke-width="0.5"/>
<text x="609" y="413.85" font-size="8.1" fill="#111" textLength="8.8" lengthAdjust="spacingAndGlyphs">30</text>
<line x1="606.5" y1="411" x2="608.7" y2="411" stroke="#aaa" stroke-width="0.5"/>
<text x="609" y="400.85" font-size="8.1" fill="#111" textLength="8.8" lengthAdjust="spacingAndGlyphs">35</text>
<line x1="606.5" y1="398" x2="608.7" y2="398" stroke="#aaa" stroke-width="0.5"/>
<text x="609" y="387.85" font-size="8.1" fill="#111" textLength="8.8" lengthAdjust="spacingAndGlyphs">40</text>
<line x1="606.5" y1="385" x2="608.7" y2="385" stroke="#aaa" stroke-width="0.5"/>
<path d="M604.8,423.74L607.5999999999999,419.74H630V427.74H607.5999999999999Z" fill="#fff" stroke="#b8325e" stroke-width="1.1" stroke-linejoin="round"/>
<text x="608.3" y="426.64" font-size="8.3" fill="#111" textLength="20" lengthAdjust="spacingAndGlyphs">25.10</text>
<path d="M604.8,437.21L607.5999999999999,433.21H630V441.21H607.5999999999999Z" fill="#fff" stroke="#2e8b57" stroke-width="1.1" stroke-linejoin="round"/>
<text x="608.3" y="440.11" font-size="8.3" fill="#111" textLength="20" lengthAdjust="spacingAndGlyphs">19.92</text>
<path d="M604.8,454.81L607.5999999999999,450.81H630V458.81H607.5999999999999Z" fill="#fff" stroke="#111" stroke-width="1.1" stroke-linejoin="round"/>
<text x="608.3" y="457.71" font-size="8.3" fill="#111" textLength="20" lengthAdjust="spacingAndGlyphs">13.15</text>
<path d="M37.6,320.8H43.6V326.6H46.6L40.6,332.8L34.6,326.6H37.6Z" fill="#808080"/>
<path d="M56.4,324.1H62.4V329.9H65.4L59.4,336.1L53.4,329.9H56.4Z" fill="#808080"/>
<path d="M62.6,316.6H68.6V322.4H71.6L65.6,328.6L59.6,322.4H62.6Z" fill="#808080"/>
<path d="M67.9,306H73.9V311.8H76.9L70.9,318L64.9,311.8H67.9Z" fill="#808080"/>
<path d="M78.9,318.3H84.9V324.1H87.9L81.9,330.3L75.9,324.1H78.9Z" fill="#808080"/>
<path d="M97.7,312.8H103.7V318.6H106.7L100.7,324.8L94.7,318.6H97.7Z" fill="#808080"/>
<path d="M105.2,305.3H111.2V311.1H114.2L108.2,317.3L102.2,311.1H105.2Z" fill="#808080"/>
<path d="M109.8,286.5H115.8V292.3H118.8L112.8,298.5L106.8,292.3H109.8Z" fill="#808080"/>
<path d="M115.3,315.3H121.3V321.1H124.3L118.3,327.3L112.3,321.1H115.3Z" fill="#808080"/>
<path d="M120.3,314H126.3V319.8H129.3L123.3,326L117.3,319.8H120.3Z" fill="#808080"/>
<path d="M128.6,303.5H134.6V309.3H137.6L131.6,315.5L125.6,309.3H128.6Z" fill="#808080"/>
<path d="M146.6,297.8H152.6V303.6H155.6L149.6,309.8L143.6,303.6H146.6Z" fill="#808080"/>
<path d="M165.5,310.6H171.5V316.4H174.5L168.5,322.6L162.5,316.4H165.5Z" fill="#808080"/>
<path d="M172.8,303.5H178.8V309.3H181.8L175.8,315.5L169.8,309.3H172.8Z" fill="#808080"/>
<path d="M183.8,296L189.8,302.2H186.8V308H180.8V302.2H177.8Z" fill="#808080"/>
<path d="M205.1,297.8L211.1,304H208.1V309.8H202.1V304H199.1Z" fill="#808080"/>
<path d="M199.1,312H205.1V317.8H208.1L202.1,324L196.1,317.8H199.1Z" fill="#808080"/>
<path d="M217.9,297H223.9V302.8H226.9L220.9,309L214.9,302.8H217.9Z" fill="#808080"/>
<path d="M214.1,308.3H220.1V314.1H223.1L217.1,320.3L211.1,314.1H214.1Z" fill="#808080"/>
<path d="M232.7,303.3H238.7V309.1H241.7L235.7,315.3L229.7,309.1H232.7Z" fill="#808080"/>
<path d="M319,306H325V311.8H328L322,318L316,311.8H319Z" fill="#808080"/>
<path d="M314.5,317.3H320.5V323.1H323.5L317.5,329.3L311.5,323.1H314.5Z" fill="#808080"/>
<path d="M350.9,282.5H356.9V288.3H359.9L353.9,294.5L347.9,288.3H350.9Z" fill="#808080"/>
<path d="M347.6,316H353.6V321.8H356.6L350.6,328L344.6,321.8H347.6Z" fill="#808080"/>
<path d="M366.8,319.2H372.8V325H375.8L369.8,331.2L363.8,325H366.8Z" fill="#808080"/>
<path d="M374.3,331.3H380.3V337.1H383.3L377.3,343.3L371.3,337.1H374.3Z" fill="#808080"/>
<path d="M383.8,330.9L389.8,337.1H386.8V342.9H380.8V337.1H377.8Z" fill="#808080"/>
<path d="M388,319.4H394V325.2H397L391,331.4L385,325.2H388Z" fill="#808080"/>
<path d="M401.9,318.8L407.9,325H404.9V330.8H398.9V325H395.9Z" fill="#808080"/>
<path d="M404.3,319.4H410.3V325.2H413.3L407.3,331.4L401.3,325.2H404.3Z" fill="#808080"/>
<path d="M422,316.6H428V322.4H431L425,328.6L419,322.4H422Z" fill="#808080"/>
<path d="M486.4,317.6H492.4V323.4H495.4L489.4,329.6L483.4,323.4H486.4Z" fill="#808080"/>
<path d="M504.2,318.1H510.2V323.9H513.2L507.2,330.1L501.2,323.9H504.2Z" fill="#808080"/>
<path d="M531,311.9H537V317.7H540L534,323.9L528,317.7H531Z" fill="#ff0000"/>
<path d="M548.5,322.3H554.5V328.1H557.5L551.5,334.3L545.5,328.1H548.5Z" fill="#ff0000"/>
<path d="M555.3,311.4H561.3V317.2H564.3L558.3,323.4L552.3,317.2H555.3Z" fill="#ff0000"/>
<path d="M560.3,302.6H566.3V308.4H569.3L563.3,314.6L557.3,308.4H560.3Z" fill="#ff0000"/>
<path d="M565.3,293H571.3V298.8H574.3L568.3,305L562.3,298.8H565.3Z" fill="#ff0000"/>
<path d="M579.4,277H585.4V282.8H588.4L582.4,289L576.4,282.8H579.4Z" fill="#ff0000"/>
<path d="M56.4,394.8H62.4V400.6H65.4L59.4,406.8L53.4,400.6H56.4Z" fill="#808080"/>
<path d="M97.2,382.3H103.2V388.1H106.2L100.2,394.3L94.2,388.1H97.2Z" fill="#808080"/>
<path d="M93.2,434.1L99.2,440.3H96.2V446.1H90.2V440.3H87.2Z" fill="#808080"/>
<path d="M213.9,442.4L219.9,448.6H216.9V454.4H210.9V448.6H207.9Z" fill="#808080"/>
<path d="M230.9,406.1H236.9V411.9H239.9L233.9,418.1L227.9,411.9H230.9Z" fill="#808080"/>
<path d="M251,405.6H257V411.4H260L254,417.6L248,411.4H251Z" fill="#808080"/>
<path d="M250.7,434.1L256.7,440.3H253.7V446.1H247.7V440.3H244.7Z" fill="#808080"/>
<path d="M257.7,441.7L263.7,447.9H260.7V453.7H254.7V447.9H251.7Z" fill="#808080"/>
<path d="M347.1,391H353.1V396.8H356.1L350.1,403L344.1,396.8H347.1Z" fill="#808080"/>
<path d="M405.3,438.7L411.3,444.9H408.3V450.7H402.3V444.9H399.3Z" fill="#808080"/>
<path d="M511.7,403.1H517.7V408.9H520.7L514.7,415.1L508.7,408.9H511.7Z" fill="#808080"/>
<path d="M533.5,402.3H539.5V408.1H542.5L536.5,414.3L530.5,408.1H533.5Z" fill="#808080"/>
<path d="M529.7,430.6L535.7,436.8H532.7V442.6H526.7V436.8H523.7Z" fill="#808080"/>
<path d="M543.3,434.1L549.3,440.3H546.3V446.1H540.3V440.3H537.3Z" fill="#2e5a1c"/>
<path d="M555.5,388H561.5V393.8H564.5L558.5,400L552.5,393.8H555.5Z" fill="#ff0000"/>
<text x="12.4" y="10.3" font-size="10.4" font-weight="bold" fill="#000" textLength="24.6" lengthAdjust="spacingAndGlyphs">$SPX</text>
<text x="40" y="10.3" font-size="8.9" fill="#111" textLength="92" lengthAdjust="spacingAndGlyphs">S&amp;P 500 Large Cap Index</text>
<text x="136.3" y="10.3" font-size="7.7" fill="#111" textLength="16.4" lengthAdjust="spacingAndGlyphs">INDX</text>
<text x="12.4" y="19.4" font-size="7.9" fill="#111" textLength="43.8" lengthAdjust="spacingAndGlyphs">24-Mar-2023</text>
<text x="539.6" y="8.8" font-size="7.8" fill="#555" textLength="66.6" lengthAdjust="spacingAndGlyphs">© StockCharts.com</text>
<text x="238.8" y="19.6" font-size="8" font-weight="bold" fill="#000" textLength="21.6" lengthAdjust="spacingAndGlyphs">Open</text>
<text x="263.2" y="19.6" font-size="8"  fill="#000" textLength="28.8" lengthAdjust="spacingAndGlyphs">3939.21</text>
<text x="296.7" y="19.6" font-size="8" font-weight="bold" fill="#000" textLength="17.8" lengthAdjust="spacingAndGlyphs">High</text>
<text x="316.7" y="19.6" font-size="8"  fill="#000" textLength="29.7" lengthAdjust="spacingAndGlyphs">3972.74</text>
<text x="351.1" y="19.6" font-size="8" font-weight="bold" fill="#000" textLength="16.6" lengthAdjust="spacingAndGlyphs">Low</text>
<text x="370.8" y="19.6" font-size="8"  fill="#000" textLength="29.2" lengthAdjust="spacingAndGlyphs">3909.16</text>
<text x="404.6" y="19.6" font-size="8" font-weight="bold" fill="#000" textLength="24.8" lengthAdjust="spacingAndGlyphs">Close</text>
<text x="431" y="19.6" font-size="8"  fill="#000" textLength="29" lengthAdjust="spacingAndGlyphs">3970.99</text>
<text x="466" y="19.6" font-size="8" font-weight="bold" fill="#000" textLength="30.7" lengthAdjust="spacingAndGlyphs">Volume</text>
<text x="498.9" y="19.6" font-size="8"  fill="#000" textLength="17.5" lengthAdjust="spacingAndGlyphs">2.6B</text>
<text x="520.8" y="19.6" font-size="8" font-weight="bold" fill="#000" textLength="15.6" lengthAdjust="spacingAndGlyphs">Chg</text>
<text x="539" y="19.6" font-size="8"  fill="#000" textLength="60" lengthAdjust="spacingAndGlyphs">+22.27 (+0.56%)</text>
<path d="M600.8,19L603.7,15.4L606.6,19Z" fill="#1a7a2e"/>
</svg></body></html>
